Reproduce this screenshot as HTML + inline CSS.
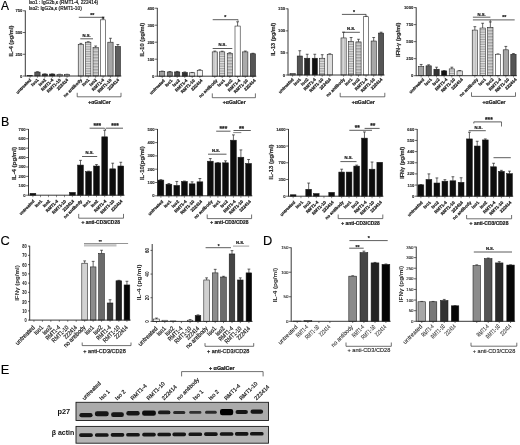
<!DOCTYPE html>
<html><head><meta charset="utf-8"><title>Figure</title>
<style>
html,body{margin:0;padding:0;background:#fff;}
body{width:520px;height:445px;overflow:hidden;}
svg{display:block;font-family:"Liberation Sans", sans-serif;filter:blur(0.3px);}
</style></head>
<body>
<svg width="520" height="445" viewBox="0 0 520 445">
<defs><pattern id="pv" width="1.6" height="4" patternUnits="userSpaceOnUse"><rect width="1.6" height="4" fill="#dadada"/><rect width="0.55" height="4" fill="#b2b2b2"/></pattern><pattern id="ph" width="4" height="1.7" patternUnits="userSpaceOnUse"><rect width="4" height="1.7" fill="#e2e2e2"/><rect width="4" height="0.65" fill="#8e8e8e"/></pattern><pattern id="ph2" width="4" height="1.5" patternUnits="userSpaceOnUse"><rect width="4" height="1.5" fill="#d6d6d6"/><rect width="4" height="0.55" fill="#8a8a8a"/></pattern><filter id="bl" x="-20%" y="-50%" width="140%" height="200%"><feGaussianBlur stdDeviation="0.45"/></filter></defs>
<rect x="0" y="0" width="520" height="445" fill="#fff"/>
<line x1="25.3" y1="10.5" x2="25.3" y2="76.4" stroke="#222" stroke-width="0.9"/>
<line x1="22.9" y1="76" x2="25.3" y2="76" stroke="#222" stroke-width="0.7"/>
<text x="22.4" y="77.51" font-size="4.2" text-anchor="end" font-weight="bold" fill="#222" stroke="#222" stroke-width="0.1">0</text>
<line x1="22.9" y1="54.27" x2="25.3" y2="54.27" stroke="#222" stroke-width="0.7"/>
<text x="22.4" y="55.78" font-size="4.2" text-anchor="end" font-weight="bold" fill="#222" stroke="#222" stroke-width="0.1">250</text>
<line x1="22.9" y1="32.53" x2="25.3" y2="32.53" stroke="#222" stroke-width="0.7"/>
<text x="22.4" y="34.05" font-size="4.2" text-anchor="end" font-weight="bold" fill="#222" stroke="#222" stroke-width="0.1">500</text>
<line x1="22.9" y1="10.8" x2="25.3" y2="10.8" stroke="#222" stroke-width="0.7"/>
<text x="22.4" y="12.31" font-size="4.2" text-anchor="end" font-weight="bold" fill="#222" stroke="#222" stroke-width="0.1">750</text>
<rect x="27.4" y="75.57" width="5.3" height="0.43" fill="#9a9a9a" stroke="#1a1a1a" stroke-width="0.55"/>
<line x1="30.05" y1="76" x2="30.05" y2="77.8" stroke="#444" stroke-width="0.6"/>
<line x1="37.45" y1="72.09" x2="37.45" y2="71.74" stroke="#222" stroke-width="0.7"/>
<line x1="36.05" y1="71.74" x2="38.85" y2="71.74" stroke="#222" stroke-width="0.7"/>
<rect x="34.8" y="72.09" width="5.3" height="3.91" fill="#5a5a5a" stroke="#1a1a1a" stroke-width="0.55"/>
<line x1="37.45" y1="76" x2="37.45" y2="77.8" stroke="#444" stroke-width="0.6"/>
<line x1="44.85" y1="74.09" x2="44.85" y2="73.91" stroke="#222" stroke-width="0.7"/>
<line x1="43.45" y1="73.91" x2="46.25" y2="73.91" stroke="#222" stroke-width="0.7"/>
<rect x="42.2" y="74.09" width="5.3" height="1.91" fill="#3a3a3a" stroke="#1a1a1a" stroke-width="0.55"/>
<line x1="44.85" y1="76" x2="44.85" y2="77.8" stroke="#444" stroke-width="0.6"/>
<line x1="52.25" y1="74.09" x2="52.25" y2="73.91" stroke="#222" stroke-width="0.7"/>
<line x1="50.85" y1="73.91" x2="53.65" y2="73.91" stroke="#222" stroke-width="0.7"/>
<rect x="49.6" y="74.09" width="5.3" height="1.91" fill="#262626" stroke="#1a1a1a" stroke-width="0.55"/>
<line x1="52.25" y1="76" x2="52.25" y2="77.8" stroke="#444" stroke-width="0.6"/>
<line x1="59.65" y1="74.44" x2="59.65" y2="74.26" stroke="#222" stroke-width="0.7"/>
<line x1="58.25" y1="74.26" x2="61.05" y2="74.26" stroke="#222" stroke-width="0.7"/>
<rect x="57" y="74.44" width="5.3" height="1.56" fill="url(#ph)" stroke="#1a1a1a" stroke-width="0.55"/>
<line x1="59.65" y1="76" x2="59.65" y2="77.8" stroke="#444" stroke-width="0.6"/>
<line x1="67.05" y1="74.44" x2="67.05" y2="74.26" stroke="#222" stroke-width="0.7"/>
<line x1="65.65" y1="74.26" x2="68.45" y2="74.26" stroke="#222" stroke-width="0.7"/>
<rect x="64.4" y="74.44" width="5.3" height="1.56" fill="#dcdcdc" stroke="#1a1a1a" stroke-width="0.55"/>
<line x1="67.05" y1="76" x2="67.05" y2="77.8" stroke="#444" stroke-width="0.6"/>
<line x1="80.85" y1="44.27" x2="80.85" y2="43.4" stroke="#222" stroke-width="0.7"/>
<line x1="79.45" y1="43.4" x2="82.25" y2="43.4" stroke="#222" stroke-width="0.7"/>
<rect x="78.2" y="44.27" width="5.3" height="31.73" fill="url(#pv)" stroke="#1a1a1a" stroke-width="0.55"/>
<line x1="80.85" y1="76" x2="80.85" y2="77.8" stroke="#444" stroke-width="0.6"/>
<line x1="88.25" y1="42.18" x2="88.25" y2="41.75" stroke="#222" stroke-width="0.7"/>
<line x1="86.85" y1="41.75" x2="89.65" y2="41.75" stroke="#222" stroke-width="0.7"/>
<rect x="85.6" y="42.18" width="5.3" height="33.82" fill="url(#ph)" stroke="#1a1a1a" stroke-width="0.55"/>
<line x1="88.25" y1="76" x2="88.25" y2="77.8" stroke="#444" stroke-width="0.6"/>
<line x1="95.65" y1="47.57" x2="95.65" y2="46.01" stroke="#222" stroke-width="0.7"/>
<line x1="94.25" y1="46.01" x2="97.05" y2="46.01" stroke="#222" stroke-width="0.7"/>
<rect x="93" y="47.57" width="5.3" height="28.43" fill="url(#ph2)" stroke="#1a1a1a" stroke-width="0.55"/>
<line x1="95.65" y1="76" x2="95.65" y2="77.8" stroke="#444" stroke-width="0.6"/>
<line x1="103.05" y1="19.84" x2="103.05" y2="18.1" stroke="#222" stroke-width="0.7"/>
<line x1="101.65" y1="18.1" x2="104.45" y2="18.1" stroke="#222" stroke-width="0.7"/>
<rect x="100.4" y="19.84" width="5.3" height="56.16" fill="#ffffff" stroke="#1a1a1a" stroke-width="0.55"/>
<line x1="103.05" y1="76" x2="103.05" y2="77.8" stroke="#444" stroke-width="0.6"/>
<line x1="110.45" y1="42.18" x2="110.45" y2="38.27" stroke="#222" stroke-width="0.7"/>
<line x1="109.05" y1="38.27" x2="111.85" y2="38.27" stroke="#222" stroke-width="0.7"/>
<rect x="107.8" y="42.18" width="5.3" height="33.82" fill="#a6a6a6" stroke="#1a1a1a" stroke-width="0.55"/>
<line x1="110.45" y1="76" x2="110.45" y2="77.8" stroke="#444" stroke-width="0.6"/>
<line x1="117.85" y1="46.44" x2="117.85" y2="44.53" stroke="#222" stroke-width="0.7"/>
<line x1="116.45" y1="44.53" x2="119.25" y2="44.53" stroke="#222" stroke-width="0.7"/>
<rect x="115.2" y="46.44" width="5.3" height="29.56" fill="#5e5e5e" stroke="#1a1a1a" stroke-width="0.55"/>
<line x1="117.85" y1="76" x2="117.85" y2="77.8" stroke="#444" stroke-width="0.6"/>
<line x1="25.3" y1="76" x2="121.3" y2="76" stroke="#222" stroke-width="0.9"/>
<text x="31.55" y="80.3" font-size="4.3" text-anchor="end" font-weight="bold" fill="#222" transform="rotate(-45 31.55 80.3)" stroke="#222" stroke-width="0.22">untreated</text>
<text x="38.95" y="80.3" font-size="4.3" text-anchor="end" font-weight="bold" fill="#222" transform="rotate(-45 38.95 80.3)" stroke="#222" stroke-width="0.22">Iso1</text>
<text x="46.35" y="80.3" font-size="4.3" text-anchor="end" font-weight="bold" fill="#222" transform="rotate(-45 46.35 80.3)" stroke="#222" stroke-width="0.22">Iso2</text>
<text x="53.75" y="80.3" font-size="4.3" text-anchor="end" font-weight="bold" fill="#222" transform="rotate(-45 53.75 80.3)" stroke="#222" stroke-width="0.22">RMT1-4</text>
<text x="61.15" y="80.3" font-size="4.3" text-anchor="end" font-weight="bold" fill="#222" transform="rotate(-45 61.15 80.3)" stroke="#222" stroke-width="0.22">RMT1-10</text>
<text x="68.55" y="80.3" font-size="4.3" text-anchor="end" font-weight="bold" fill="#222" transform="rotate(-45 68.55 80.3)" stroke="#222" stroke-width="0.22">222414</text>
<text x="82.35" y="80.3" font-size="4.3" text-anchor="end" font-weight="bold" fill="#222" transform="rotate(-45 82.35 80.3)" stroke="#222" stroke-width="0.22">no antibody</text>
<text x="89.75" y="80.3" font-size="4.3" text-anchor="end" font-weight="bold" fill="#222" transform="rotate(-45 89.75 80.3)" stroke="#222" stroke-width="0.22">Iso1</text>
<text x="97.15" y="80.3" font-size="4.3" text-anchor="end" font-weight="bold" fill="#222" transform="rotate(-45 97.15 80.3)" stroke="#222" stroke-width="0.22">Iso2</text>
<text x="104.55" y="80.3" font-size="4.3" text-anchor="end" font-weight="bold" fill="#222" transform="rotate(-45 104.55 80.3)" stroke="#222" stroke-width="0.22">RMT1-4</text>
<text x="111.95" y="80.3" font-size="4.3" text-anchor="end" font-weight="bold" fill="#222" transform="rotate(-45 111.95 80.3)" stroke="#222" stroke-width="0.22">RMT1-10</text>
<text x="119.35" y="80.3" font-size="4.3" text-anchor="end" font-weight="bold" fill="#222" transform="rotate(-45 119.35 80.3)" stroke="#222" stroke-width="0.22">222414</text>
<text x="12.9" y="41" font-size="5.9" text-anchor="middle" font-weight="bold" fill="#333" transform="rotate(-90 12.9 41)" textLength="31" lengthAdjust="spacingAndGlyphs" stroke="#333" stroke-width="0.22">IL-4 (pg/ml)</text>
<path d="M77.2 92.8 V96.8 H121 V92.8" fill="none" stroke="#333" stroke-width="0.7"/>
<text x="99.5" y="103.6" font-size="5" text-anchor="middle" font-weight="bold" fill="#222" textLength="22.6" lengthAdjust="spacingAndGlyphs" stroke="#222" stroke-width="0.22">+αGalCer</text>
<line x1="78.8" y1="17.3" x2="103.6" y2="17.3" stroke="#333" stroke-width="0.8"/>
<text x="92.3" y="17.4" font-size="5.2" text-anchor="middle" font-weight="bold" fill="#222" stroke="#222" stroke-width="0.22">**</text>
<line x1="80.3" y1="38.8" x2="93" y2="38.8" stroke="#333" stroke-width="0.8"/>
<text x="86.6" y="36.8" font-size="4.2" text-anchor="middle" font-weight="bold" fill="#222" stroke="#222" stroke-width="0.22">N.S.</text>
<path d="M101.8 16.8 L104.6 16.8 L103.2 19.2 Z" fill="#222"/>
<line x1="157.3" y1="7.9" x2="157.3" y2="76.6" stroke="#222" stroke-width="0.9"/>
<line x1="154.9" y1="76.2" x2="157.3" y2="76.2" stroke="#222" stroke-width="0.7"/>
<text x="154.4" y="77.71" font-size="4.2" text-anchor="end" font-weight="bold" fill="#222" stroke="#222" stroke-width="0.1">0</text>
<line x1="154.9" y1="59.2" x2="157.3" y2="59.2" stroke="#222" stroke-width="0.7"/>
<text x="154.4" y="60.71" font-size="4.2" text-anchor="end" font-weight="bold" fill="#222" stroke="#222" stroke-width="0.1">100</text>
<line x1="154.9" y1="42.2" x2="157.3" y2="42.2" stroke="#222" stroke-width="0.7"/>
<text x="154.4" y="43.71" font-size="4.2" text-anchor="end" font-weight="bold" fill="#222" stroke="#222" stroke-width="0.1">200</text>
<line x1="154.9" y1="25.2" x2="157.3" y2="25.2" stroke="#222" stroke-width="0.7"/>
<text x="154.4" y="26.71" font-size="4.2" text-anchor="end" font-weight="bold" fill="#222" stroke="#222" stroke-width="0.1">300</text>
<line x1="154.9" y1="8.2" x2="157.3" y2="8.2" stroke="#222" stroke-width="0.7"/>
<text x="154.4" y="9.71" font-size="4.2" text-anchor="end" font-weight="bold" fill="#222" stroke="#222" stroke-width="0.1">400</text>
<line x1="162.2" y1="71.44" x2="162.2" y2="71.1" stroke="#222" stroke-width="0.7"/>
<line x1="160.8" y1="71.1" x2="163.6" y2="71.1" stroke="#222" stroke-width="0.7"/>
<rect x="159.6" y="71.44" width="5.2" height="4.76" fill="#a0a0a0" stroke="#1a1a1a" stroke-width="0.55"/>
<line x1="162.2" y1="76.2" x2="162.2" y2="78" stroke="#444" stroke-width="0.6"/>
<line x1="169.8" y1="71.95" x2="169.8" y2="71.61" stroke="#222" stroke-width="0.7"/>
<line x1="168.4" y1="71.61" x2="171.2" y2="71.61" stroke="#222" stroke-width="0.7"/>
<rect x="167.2" y="71.95" width="5.2" height="4.25" fill="#7a7a7a" stroke="#1a1a1a" stroke-width="0.55"/>
<line x1="169.8" y1="76.2" x2="169.8" y2="78" stroke="#444" stroke-width="0.6"/>
<line x1="177.2" y1="71.95" x2="177.2" y2="71.44" stroke="#222" stroke-width="0.7"/>
<line x1="175.8" y1="71.44" x2="178.6" y2="71.44" stroke="#222" stroke-width="0.7"/>
<rect x="174.6" y="71.95" width="5.2" height="4.25" fill="#4a4a4a" stroke="#1a1a1a" stroke-width="0.55"/>
<line x1="177.2" y1="76.2" x2="177.2" y2="78" stroke="#444" stroke-width="0.6"/>
<line x1="184.8" y1="72.46" x2="184.8" y2="71.95" stroke="#222" stroke-width="0.7"/>
<line x1="183.4" y1="71.95" x2="186.2" y2="71.95" stroke="#222" stroke-width="0.7"/>
<rect x="182.2" y="72.46" width="5.2" height="3.74" fill="#333333" stroke="#1a1a1a" stroke-width="0.55"/>
<line x1="184.8" y1="76.2" x2="184.8" y2="78" stroke="#444" stroke-width="0.6"/>
<line x1="192.2" y1="72.8" x2="192.2" y2="72.46" stroke="#222" stroke-width="0.7"/>
<line x1="190.8" y1="72.46" x2="193.6" y2="72.46" stroke="#222" stroke-width="0.7"/>
<rect x="189.6" y="72.8" width="5.2" height="3.4" fill="#dddddd" stroke="#1a1a1a" stroke-width="0.55"/>
<line x1="192.2" y1="76.2" x2="192.2" y2="78" stroke="#444" stroke-width="0.6"/>
<line x1="199.8" y1="70.25" x2="199.8" y2="69.74" stroke="#222" stroke-width="0.7"/>
<line x1="198.4" y1="69.74" x2="201.2" y2="69.74" stroke="#222" stroke-width="0.7"/>
<rect x="197.2" y="70.25" width="5.2" height="5.95" fill="#f4f4f4" stroke="#1a1a1a" stroke-width="0.55"/>
<line x1="199.8" y1="76.2" x2="199.8" y2="78" stroke="#444" stroke-width="0.6"/>
<line x1="214.8" y1="51.89" x2="214.8" y2="51.04" stroke="#222" stroke-width="0.7"/>
<line x1="213.4" y1="51.04" x2="216.2" y2="51.04" stroke="#222" stroke-width="0.7"/>
<rect x="212.2" y="51.89" width="5.2" height="24.31" fill="url(#pv)" stroke="#1a1a1a" stroke-width="0.55"/>
<line x1="214.8" y1="76.2" x2="214.8" y2="78" stroke="#444" stroke-width="0.6"/>
<line x1="222.2" y1="51.89" x2="222.2" y2="51.21" stroke="#222" stroke-width="0.7"/>
<line x1="220.8" y1="51.21" x2="223.6" y2="51.21" stroke="#222" stroke-width="0.7"/>
<rect x="219.6" y="51.89" width="5.2" height="24.31" fill="url(#ph)" stroke="#1a1a1a" stroke-width="0.55"/>
<line x1="222.2" y1="76.2" x2="222.2" y2="78" stroke="#444" stroke-width="0.6"/>
<line x1="229.8" y1="53.25" x2="229.8" y2="52.74" stroke="#222" stroke-width="0.7"/>
<line x1="228.4" y1="52.74" x2="231.2" y2="52.74" stroke="#222" stroke-width="0.7"/>
<rect x="227.2" y="53.25" width="5.2" height="22.95" fill="url(#ph2)" stroke="#1a1a1a" stroke-width="0.55"/>
<line x1="229.8" y1="76.2" x2="229.8" y2="78" stroke="#444" stroke-width="0.6"/>
<line x1="237.6" y1="26.05" x2="237.6" y2="21.8" stroke="#222" stroke-width="0.7"/>
<line x1="236.2" y1="21.8" x2="239" y2="21.8" stroke="#222" stroke-width="0.7"/>
<rect x="235" y="26.05" width="5.2" height="50.15" fill="#ffffff" stroke="#1a1a1a" stroke-width="0.55"/>
<line x1="237.6" y1="76.2" x2="237.6" y2="78" stroke="#444" stroke-width="0.6"/>
<line x1="245.3" y1="51.89" x2="245.3" y2="51.04" stroke="#222" stroke-width="0.7"/>
<line x1="243.9" y1="51.04" x2="246.7" y2="51.04" stroke="#222" stroke-width="0.7"/>
<rect x="242.7" y="51.89" width="5.2" height="24.31" fill="#aaaaaa" stroke="#1a1a1a" stroke-width="0.55"/>
<line x1="245.3" y1="76.2" x2="245.3" y2="78" stroke="#444" stroke-width="0.6"/>
<line x1="252.9" y1="53.76" x2="252.9" y2="53.25" stroke="#222" stroke-width="0.7"/>
<line x1="251.5" y1="53.25" x2="254.3" y2="53.25" stroke="#222" stroke-width="0.7"/>
<rect x="250.3" y="53.76" width="5.2" height="22.44" fill="#555555" stroke="#1a1a1a" stroke-width="0.55"/>
<line x1="252.9" y1="76.2" x2="252.9" y2="78" stroke="#444" stroke-width="0.6"/>
<line x1="157.3" y1="76.2" x2="256.3" y2="76.2" stroke="#222" stroke-width="0.9"/>
<text x="165.2" y="80.9" font-size="4.3" text-anchor="end" font-weight="bold" fill="#222" transform="rotate(-45 165.2 80.9)" stroke="#222" stroke-width="0.22">untreated</text>
<text x="172.8" y="80.9" font-size="4.3" text-anchor="end" font-weight="bold" fill="#222" transform="rotate(-45 172.8 80.9)" stroke="#222" stroke-width="0.22">Iso1</text>
<text x="180.2" y="80.9" font-size="4.3" text-anchor="end" font-weight="bold" fill="#222" transform="rotate(-45 180.2 80.9)" stroke="#222" stroke-width="0.22">Iso2</text>
<text x="187.8" y="80.9" font-size="4.3" text-anchor="end" font-weight="bold" fill="#222" transform="rotate(-45 187.8 80.9)" stroke="#222" stroke-width="0.22">RMT1-4</text>
<text x="195.2" y="80.9" font-size="4.3" text-anchor="end" font-weight="bold" fill="#222" transform="rotate(-45 195.2 80.9)" stroke="#222" stroke-width="0.22">RMT1-10</text>
<text x="202.8" y="80.9" font-size="4.3" text-anchor="end" font-weight="bold" fill="#222" transform="rotate(-45 202.8 80.9)" stroke="#222" stroke-width="0.22">222414</text>
<text x="217.8" y="80.9" font-size="4.3" text-anchor="end" font-weight="bold" fill="#222" transform="rotate(-45 217.8 80.9)" stroke="#222" stroke-width="0.22">no antibody</text>
<text x="225.2" y="80.9" font-size="4.3" text-anchor="end" font-weight="bold" fill="#222" transform="rotate(-45 225.2 80.9)" stroke="#222" stroke-width="0.22">Iso1</text>
<text x="232.8" y="80.9" font-size="4.3" text-anchor="end" font-weight="bold" fill="#222" transform="rotate(-45 232.8 80.9)" stroke="#222" stroke-width="0.22">Iso2</text>
<text x="240.6" y="80.9" font-size="4.3" text-anchor="end" font-weight="bold" fill="#222" transform="rotate(-45 240.6 80.9)" stroke="#222" stroke-width="0.22">RMT1-4</text>
<text x="248.3" y="80.9" font-size="4.3" text-anchor="end" font-weight="bold" fill="#222" transform="rotate(-45 248.3 80.9)" stroke="#222" stroke-width="0.22">RMT1-10</text>
<text x="255.9" y="80.9" font-size="4.3" text-anchor="end" font-weight="bold" fill="#222" transform="rotate(-45 255.9 80.9)" stroke="#222" stroke-width="0.22">222414</text>
<text x="143.8" y="39.7" font-size="5.9" text-anchor="middle" font-weight="bold" fill="#333" transform="rotate(-90 143.8 39.7)" textLength="33.7" lengthAdjust="spacingAndGlyphs" stroke="#333" stroke-width="0.22">IL-10 (pg/ml)</text>
<path d="M212.3 93.4 V97.7 H255.4 V93.4" fill="none" stroke="#333" stroke-width="0.7"/>
<text x="234.25" y="104.4" font-size="5" text-anchor="middle" font-weight="bold" fill="#222" textLength="22.9" lengthAdjust="spacingAndGlyphs" stroke="#222" stroke-width="0.22">+αGalCer</text>
<line x1="212.7" y1="19.7" x2="238.2" y2="19.7" stroke="#333" stroke-width="0.8"/>
<text x="225.2" y="19" font-size="5.2" text-anchor="middle" font-weight="bold" fill="#222" stroke="#222" stroke-width="0.22">*</text>
<line x1="212.7" y1="48.5" x2="232.3" y2="48.5" stroke="#333" stroke-width="0.8"/>
<text x="222.5" y="46.3" font-size="4.2" text-anchor="middle" font-weight="bold" fill="#222" stroke="#222" stroke-width="0.22">N.S.</text>
<path d="M238 19.7 V21.6" fill="none" stroke="#555" stroke-width="0.6"/>
<line x1="288" y1="8.5" x2="288" y2="75.4" stroke="#222" stroke-width="0.9"/>
<line x1="285.6" y1="75" x2="288" y2="75" stroke="#222" stroke-width="0.7"/>
<text x="285.1" y="76.51" font-size="4.2" text-anchor="end" font-weight="bold" fill="#222" stroke="#222" stroke-width="0.1">0</text>
<line x1="285.6" y1="52.93" x2="288" y2="52.93" stroke="#222" stroke-width="0.7"/>
<text x="285.1" y="54.45" font-size="4.2" text-anchor="end" font-weight="bold" fill="#222" stroke="#222" stroke-width="0.1">50</text>
<line x1="285.6" y1="30.87" x2="288" y2="30.87" stroke="#222" stroke-width="0.7"/>
<text x="285.1" y="32.38" font-size="4.2" text-anchor="end" font-weight="bold" fill="#222" stroke="#222" stroke-width="0.1">100</text>
<line x1="285.6" y1="8.8" x2="288" y2="8.8" stroke="#222" stroke-width="0.7"/>
<text x="285.1" y="10.31" font-size="4.2" text-anchor="end" font-weight="bold" fill="#222" stroke="#222" stroke-width="0.1">150</text>
<rect x="290" y="73.46" width="5.2" height="1.54" fill="#9a9a9a" stroke="#1a1a1a" stroke-width="0.55"/>
<line x1="292.6" y1="75" x2="292.6" y2="76.8" stroke="#444" stroke-width="0.6"/>
<line x1="299.8" y1="56.02" x2="299.8" y2="50.73" stroke="#222" stroke-width="0.7"/>
<line x1="298.4" y1="50.73" x2="301.2" y2="50.73" stroke="#222" stroke-width="0.7"/>
<rect x="297.2" y="56.02" width="5.2" height="18.98" fill="#555555" stroke="#1a1a1a" stroke-width="0.55"/>
<line x1="299.8" y1="75" x2="299.8" y2="76.8" stroke="#444" stroke-width="0.6"/>
<line x1="307.2" y1="58.23" x2="307.2" y2="54.26" stroke="#222" stroke-width="0.7"/>
<line x1="305.8" y1="54.26" x2="308.6" y2="54.26" stroke="#222" stroke-width="0.7"/>
<rect x="304.6" y="58.23" width="5.2" height="16.77" fill="#262626" stroke="#1a1a1a" stroke-width="0.55"/>
<line x1="307.2" y1="75" x2="307.2" y2="76.8" stroke="#444" stroke-width="0.6"/>
<line x1="314.8" y1="58.23" x2="314.8" y2="54.26" stroke="#222" stroke-width="0.7"/>
<line x1="313.4" y1="54.26" x2="316.2" y2="54.26" stroke="#222" stroke-width="0.7"/>
<rect x="312.2" y="58.23" width="5.2" height="16.77" fill="#111111" stroke="#1a1a1a" stroke-width="0.55"/>
<line x1="314.8" y1="75" x2="314.8" y2="76.8" stroke="#444" stroke-width="0.6"/>
<line x1="322.2" y1="58.23" x2="322.2" y2="54.7" stroke="#222" stroke-width="0.7"/>
<line x1="320.8" y1="54.7" x2="323.6" y2="54.7" stroke="#222" stroke-width="0.7"/>
<rect x="319.6" y="58.23" width="5.2" height="16.77" fill="url(#ph)" stroke="#1a1a1a" stroke-width="0.55"/>
<line x1="322.2" y1="75" x2="322.2" y2="76.8" stroke="#444" stroke-width="0.6"/>
<line x1="329.8" y1="54.26" x2="329.8" y2="53.82" stroke="#222" stroke-width="0.7"/>
<line x1="328.4" y1="53.82" x2="331.2" y2="53.82" stroke="#222" stroke-width="0.7"/>
<rect x="327.2" y="54.26" width="5.2" height="20.74" fill="#dddddd" stroke="#1a1a1a" stroke-width="0.55"/>
<line x1="329.8" y1="75" x2="329.8" y2="76.8" stroke="#444" stroke-width="0.6"/>
<line x1="343.6" y1="37.93" x2="343.6" y2="32.19" stroke="#222" stroke-width="0.7"/>
<line x1="342.2" y1="32.19" x2="345" y2="32.19" stroke="#222" stroke-width="0.7"/>
<rect x="341" y="37.93" width="5.2" height="37.07" fill="url(#pv)" stroke="#1a1a1a" stroke-width="0.55"/>
<line x1="343.6" y1="75" x2="343.6" y2="76.8" stroke="#444" stroke-width="0.6"/>
<line x1="351.1" y1="41.46" x2="351.1" y2="37.49" stroke="#222" stroke-width="0.7"/>
<line x1="349.7" y1="37.49" x2="352.5" y2="37.49" stroke="#222" stroke-width="0.7"/>
<rect x="348.5" y="41.46" width="5.2" height="33.54" fill="url(#ph)" stroke="#1a1a1a" stroke-width="0.55"/>
<line x1="351.1" y1="75" x2="351.1" y2="76.8" stroke="#444" stroke-width="0.6"/>
<line x1="358.5" y1="41.9" x2="358.5" y2="39.25" stroke="#222" stroke-width="0.7"/>
<line x1="357.1" y1="39.25" x2="359.9" y2="39.25" stroke="#222" stroke-width="0.7"/>
<rect x="355.9" y="41.9" width="5.2" height="33.1" fill="url(#ph2)" stroke="#1a1a1a" stroke-width="0.55"/>
<line x1="358.5" y1="75" x2="358.5" y2="76.8" stroke="#444" stroke-width="0.6"/>
<line x1="366.1" y1="16.74" x2="366.1" y2="16.3" stroke="#222" stroke-width="0.7"/>
<line x1="364.7" y1="16.3" x2="367.5" y2="16.3" stroke="#222" stroke-width="0.7"/>
<rect x="363.5" y="16.74" width="5.2" height="58.26" fill="#ffffff" stroke="#1a1a1a" stroke-width="0.55"/>
<line x1="366.1" y1="75" x2="366.1" y2="76.8" stroke="#444" stroke-width="0.6"/>
<line x1="373.7" y1="41.02" x2="373.7" y2="37.49" stroke="#222" stroke-width="0.7"/>
<line x1="372.3" y1="37.49" x2="375.1" y2="37.49" stroke="#222" stroke-width="0.7"/>
<rect x="371.1" y="41.02" width="5.2" height="33.98" fill="#a8a8a8" stroke="#1a1a1a" stroke-width="0.55"/>
<line x1="373.7" y1="75" x2="373.7" y2="76.8" stroke="#444" stroke-width="0.6"/>
<line x1="381.1" y1="33.07" x2="381.1" y2="32.19" stroke="#222" stroke-width="0.7"/>
<line x1="379.7" y1="32.19" x2="382.5" y2="32.19" stroke="#222" stroke-width="0.7"/>
<rect x="378.5" y="33.07" width="5.2" height="41.93" fill="#555555" stroke="#1a1a1a" stroke-width="0.55"/>
<line x1="381.1" y1="75" x2="381.1" y2="76.8" stroke="#444" stroke-width="0.6"/>
<line x1="288" y1="75" x2="384.5" y2="75" stroke="#222" stroke-width="0.9"/>
<text x="294.1" y="79.8" font-size="4.3" text-anchor="end" font-weight="bold" fill="#222" transform="rotate(-45 294.1 79.8)" stroke="#222" stroke-width="0.22">untreated</text>
<text x="301.3" y="79.8" font-size="4.3" text-anchor="end" font-weight="bold" fill="#222" transform="rotate(-45 301.3 79.8)" stroke="#222" stroke-width="0.22">Iso1</text>
<text x="308.7" y="79.8" font-size="4.3" text-anchor="end" font-weight="bold" fill="#222" transform="rotate(-45 308.7 79.8)" stroke="#222" stroke-width="0.22">Iso2</text>
<text x="316.3" y="79.8" font-size="4.3" text-anchor="end" font-weight="bold" fill="#222" transform="rotate(-45 316.3 79.8)" stroke="#222" stroke-width="0.22">RMT1-4</text>
<text x="323.7" y="79.8" font-size="4.3" text-anchor="end" font-weight="bold" fill="#222" transform="rotate(-45 323.7 79.8)" stroke="#222" stroke-width="0.22">RMT1-10</text>
<text x="331.3" y="79.8" font-size="4.3" text-anchor="end" font-weight="bold" fill="#222" transform="rotate(-45 331.3 79.8)" stroke="#222" stroke-width="0.22">222414</text>
<text x="345.1" y="79.8" font-size="4.3" text-anchor="end" font-weight="bold" fill="#222" transform="rotate(-45 345.1 79.8)" stroke="#222" stroke-width="0.22">no antibody</text>
<text x="352.6" y="79.8" font-size="4.3" text-anchor="end" font-weight="bold" fill="#222" transform="rotate(-45 352.6 79.8)" stroke="#222" stroke-width="0.22">Iso1</text>
<text x="360" y="79.8" font-size="4.3" text-anchor="end" font-weight="bold" fill="#222" transform="rotate(-45 360 79.8)" stroke="#222" stroke-width="0.22">Iso2</text>
<text x="367.6" y="79.8" font-size="4.3" text-anchor="end" font-weight="bold" fill="#222" transform="rotate(-45 367.6 79.8)" stroke="#222" stroke-width="0.22">RMT1-4</text>
<text x="375.2" y="79.8" font-size="4.3" text-anchor="end" font-weight="bold" fill="#222" transform="rotate(-45 375.2 79.8)" stroke="#222" stroke-width="0.22">RMT1-10</text>
<text x="382.6" y="79.8" font-size="4.3" text-anchor="end" font-weight="bold" fill="#222" transform="rotate(-45 382.6 79.8)" stroke="#222" stroke-width="0.22">222414</text>
<text x="274.8" y="39.3" font-size="5.9" text-anchor="middle" font-weight="bold" fill="#333" transform="rotate(-90 274.8 39.3)" textLength="33" lengthAdjust="spacingAndGlyphs" stroke="#333" stroke-width="0.22">IL-13 (pg/ml)</text>
<path d="M340.2 92.8 V96.8 H384.8 V92.8" fill="none" stroke="#333" stroke-width="0.7"/>
<text x="363.25" y="103.6" font-size="5" text-anchor="middle" font-weight="bold" fill="#222" textLength="23.1" lengthAdjust="spacingAndGlyphs" stroke="#222" stroke-width="0.22">+αGalCer</text>
<line x1="341.9" y1="14.4" x2="366.2" y2="14.4" stroke="#333" stroke-width="0.8"/>
<text x="354" y="13.8" font-size="5.2" text-anchor="middle" font-weight="bold" fill="#222" stroke="#222" stroke-width="0.22">*</text>
<line x1="342.4" y1="32.3" x2="359.9" y2="32.3" stroke="#333" stroke-width="0.8"/>
<text x="351.2" y="30.2" font-size="4.2" text-anchor="middle" font-weight="bold" fill="#222" stroke="#222" stroke-width="0.22">N.S.</text>
<path d="M366 14.4 V16.2" fill="none" stroke="#333" stroke-width="0.7"/>
<line x1="416.2" y1="7.3" x2="416.2" y2="76.1" stroke="#222" stroke-width="0.9"/>
<line x1="413.8" y1="75.7" x2="416.2" y2="75.7" stroke="#222" stroke-width="0.7"/>
<text x="413.3" y="77.21" font-size="4.2" text-anchor="end" font-weight="bold" fill="#222" stroke="#222" stroke-width="0.1">0</text>
<line x1="413.8" y1="58.67" x2="416.2" y2="58.67" stroke="#222" stroke-width="0.7"/>
<text x="413.3" y="60.19" font-size="4.2" text-anchor="end" font-weight="bold" fill="#222" stroke="#222" stroke-width="0.1">250</text>
<line x1="413.8" y1="41.65" x2="416.2" y2="41.65" stroke="#222" stroke-width="0.7"/>
<text x="413.3" y="43.16" font-size="4.2" text-anchor="end" font-weight="bold" fill="#222" stroke="#222" stroke-width="0.1">500</text>
<line x1="413.8" y1="24.62" x2="416.2" y2="24.62" stroke="#222" stroke-width="0.7"/>
<text x="413.3" y="26.14" font-size="4.2" text-anchor="end" font-weight="bold" fill="#222" stroke="#222" stroke-width="0.1">750</text>
<line x1="413.8" y1="7.6" x2="416.2" y2="7.6" stroke="#222" stroke-width="0.7"/>
<text x="413.3" y="9.11" font-size="4.2" text-anchor="end" font-weight="bold" fill="#222" stroke="#222" stroke-width="0.1">1000</text>
<line x1="421.15" y1="66.51" x2="421.15" y2="64.46" stroke="#222" stroke-width="0.7"/>
<line x1="419.75" y1="64.46" x2="422.55" y2="64.46" stroke="#222" stroke-width="0.7"/>
<rect x="418.5" y="66.51" width="5.3" height="9.19" fill="#a5a5a5" stroke="#1a1a1a" stroke-width="0.55"/>
<line x1="421.15" y1="75.7" x2="421.15" y2="77.5" stroke="#444" stroke-width="0.6"/>
<line x1="428.65" y1="65.83" x2="428.65" y2="64.8" stroke="#222" stroke-width="0.7"/>
<line x1="427.25" y1="64.8" x2="430.05" y2="64.8" stroke="#222" stroke-width="0.7"/>
<rect x="426" y="65.83" width="5.3" height="9.87" fill="#5a5a5a" stroke="#1a1a1a" stroke-width="0.55"/>
<line x1="428.65" y1="75.7" x2="428.65" y2="77.5" stroke="#444" stroke-width="0.6"/>
<line x1="436.55" y1="69.23" x2="436.55" y2="67.19" stroke="#222" stroke-width="0.7"/>
<line x1="435.15" y1="67.19" x2="437.95" y2="67.19" stroke="#222" stroke-width="0.7"/>
<rect x="433.9" y="69.23" width="5.3" height="6.47" fill="#333333" stroke="#1a1a1a" stroke-width="0.55"/>
<line x1="436.55" y1="75.7" x2="436.55" y2="77.5" stroke="#444" stroke-width="0.6"/>
<line x1="444.15" y1="70.93" x2="444.15" y2="70.59" stroke="#222" stroke-width="0.7"/>
<line x1="442.75" y1="70.59" x2="445.55" y2="70.59" stroke="#222" stroke-width="0.7"/>
<rect x="441.5" y="70.93" width="5.3" height="4.77" fill="#111111" stroke="#1a1a1a" stroke-width="0.55"/>
<line x1="444.15" y1="75.7" x2="444.15" y2="77.5" stroke="#444" stroke-width="0.6"/>
<line x1="451.85" y1="68.89" x2="451.85" y2="67.19" stroke="#222" stroke-width="0.7"/>
<line x1="450.45" y1="67.19" x2="453.25" y2="67.19" stroke="#222" stroke-width="0.7"/>
<rect x="449.2" y="68.89" width="5.3" height="6.81" fill="url(#ph)" stroke="#1a1a1a" stroke-width="0.55"/>
<line x1="451.85" y1="75.7" x2="451.85" y2="77.5" stroke="#444" stroke-width="0.6"/>
<line x1="459.65" y1="70.93" x2="459.65" y2="70.59" stroke="#222" stroke-width="0.7"/>
<line x1="458.25" y1="70.59" x2="461.05" y2="70.59" stroke="#222" stroke-width="0.7"/>
<rect x="457" y="70.93" width="5.3" height="4.77" fill="#d8d8d8" stroke="#1a1a1a" stroke-width="0.55"/>
<line x1="459.65" y1="75.7" x2="459.65" y2="77.5" stroke="#444" stroke-width="0.6"/>
<line x1="474.85" y1="30.07" x2="474.85" y2="26.67" stroke="#222" stroke-width="0.7"/>
<line x1="473.45" y1="26.67" x2="476.25" y2="26.67" stroke="#222" stroke-width="0.7"/>
<rect x="472.2" y="30.07" width="5.3" height="45.63" fill="url(#pv)" stroke="#1a1a1a" stroke-width="0.55"/>
<line x1="474.85" y1="75.7" x2="474.85" y2="77.5" stroke="#444" stroke-width="0.6"/>
<line x1="482.65" y1="28.03" x2="482.65" y2="23.26" stroke="#222" stroke-width="0.7"/>
<line x1="481.25" y1="23.26" x2="484.05" y2="23.26" stroke="#222" stroke-width="0.7"/>
<rect x="480" y="28.03" width="5.3" height="47.67" fill="url(#ph)" stroke="#1a1a1a" stroke-width="0.55"/>
<line x1="482.65" y1="75.7" x2="482.65" y2="77.5" stroke="#444" stroke-width="0.6"/>
<line x1="490.35" y1="27.35" x2="490.35" y2="21.9" stroke="#222" stroke-width="0.7"/>
<line x1="488.95" y1="21.9" x2="491.75" y2="21.9" stroke="#222" stroke-width="0.7"/>
<rect x="487.7" y="27.35" width="5.3" height="48.35" fill="url(#ph2)" stroke="#1a1a1a" stroke-width="0.55"/>
<line x1="490.35" y1="75.7" x2="490.35" y2="77.5" stroke="#444" stroke-width="0.6"/>
<line x1="497.95" y1="54.25" x2="497.95" y2="53.91" stroke="#222" stroke-width="0.7"/>
<line x1="496.55" y1="53.91" x2="499.35" y2="53.91" stroke="#222" stroke-width="0.7"/>
<rect x="495.3" y="54.25" width="5.3" height="21.45" fill="#ffffff" stroke="#1a1a1a" stroke-width="0.55"/>
<line x1="497.95" y1="75.7" x2="497.95" y2="77.5" stroke="#444" stroke-width="0.6"/>
<line x1="505.85" y1="49.82" x2="505.85" y2="46.42" stroke="#222" stroke-width="0.7"/>
<line x1="504.45" y1="46.42" x2="507.25" y2="46.42" stroke="#222" stroke-width="0.7"/>
<rect x="503.2" y="49.82" width="5.3" height="25.88" fill="#a5a5a5" stroke="#1a1a1a" stroke-width="0.55"/>
<line x1="505.85" y1="75.7" x2="505.85" y2="77.5" stroke="#444" stroke-width="0.6"/>
<line x1="513.45" y1="54.25" x2="513.45" y2="53.57" stroke="#222" stroke-width="0.7"/>
<line x1="512.05" y1="53.57" x2="514.85" y2="53.57" stroke="#222" stroke-width="0.7"/>
<rect x="510.8" y="54.25" width="5.3" height="21.45" fill="#555555" stroke="#1a1a1a" stroke-width="0.55"/>
<line x1="513.45" y1="75.7" x2="513.45" y2="77.5" stroke="#444" stroke-width="0.6"/>
<line x1="416.2" y1="75.7" x2="516.9" y2="75.7" stroke="#222" stroke-width="0.9"/>
<text x="424.65" y="79.9" font-size="4.3" text-anchor="end" font-weight="bold" fill="#222" transform="rotate(-45 424.65 79.9)" stroke="#222" stroke-width="0.22">untreated</text>
<text x="432.15" y="79.9" font-size="4.3" text-anchor="end" font-weight="bold" fill="#222" transform="rotate(-45 432.15 79.9)" stroke="#222" stroke-width="0.22">Iso1</text>
<text x="440.05" y="79.9" font-size="4.3" text-anchor="end" font-weight="bold" fill="#222" transform="rotate(-45 440.05 79.9)" stroke="#222" stroke-width="0.22">Iso2</text>
<text x="447.65" y="79.9" font-size="4.3" text-anchor="end" font-weight="bold" fill="#222" transform="rotate(-45 447.65 79.9)" stroke="#222" stroke-width="0.22">RMT1-4</text>
<text x="455.35" y="79.9" font-size="4.3" text-anchor="end" font-weight="bold" fill="#222" transform="rotate(-45 455.35 79.9)" stroke="#222" stroke-width="0.22">RMT1-10</text>
<text x="463.15" y="79.9" font-size="4.3" text-anchor="end" font-weight="bold" fill="#222" transform="rotate(-45 463.15 79.9)" stroke="#222" stroke-width="0.22">222414</text>
<text x="478.35" y="79.9" font-size="4.3" text-anchor="end" font-weight="bold" fill="#222" transform="rotate(-45 478.35 79.9)" stroke="#222" stroke-width="0.22">no antibody</text>
<text x="486.15" y="79.9" font-size="4.3" text-anchor="end" font-weight="bold" fill="#222" transform="rotate(-45 486.15 79.9)" stroke="#222" stroke-width="0.22">Iso1</text>
<text x="493.85" y="79.9" font-size="4.3" text-anchor="end" font-weight="bold" fill="#222" transform="rotate(-45 493.85 79.9)" stroke="#222" stroke-width="0.22">Iso2</text>
<text x="501.45" y="79.9" font-size="4.3" text-anchor="end" font-weight="bold" fill="#222" transform="rotate(-45 501.45 79.9)" stroke="#222" stroke-width="0.22">RMT1-4</text>
<text x="509.35" y="79.9" font-size="4.3" text-anchor="end" font-weight="bold" fill="#222" transform="rotate(-45 509.35 79.9)" stroke="#222" stroke-width="0.22">RMT1-10</text>
<text x="516.95" y="79.9" font-size="4.3" text-anchor="end" font-weight="bold" fill="#222" transform="rotate(-45 516.95 79.9)" stroke="#222" stroke-width="0.22">222414</text>
<text x="400.2" y="39.7" font-size="5.9" text-anchor="middle" font-weight="bold" fill="#333" transform="rotate(-90 400.2 39.7)" textLength="34.4" lengthAdjust="spacingAndGlyphs" stroke="#333" stroke-width="0.22">IFN-γ (pg/ml)</text>
<path d="M471.5 92.3 V96.4 H515.5 V92.3" fill="none" stroke="#333" stroke-width="0.7"/>
<text x="494" y="103.6" font-size="5" text-anchor="middle" font-weight="bold" fill="#222" textLength="23" lengthAdjust="spacingAndGlyphs" stroke="#222" stroke-width="0.22">+αGalCer</text>
<line x1="472.9" y1="17.2" x2="490.4" y2="17.2" stroke="#333" stroke-width="0.8"/>
<text x="481.6" y="15.8" font-size="4.2" text-anchor="middle" font-weight="bold" fill="#222" stroke="#222" stroke-width="0.22">N.S.</text>
<line x1="472.9" y1="19.9" x2="514.7" y2="19.9" stroke="#333" stroke-width="0.8"/>
<text x="504.2" y="19.2" font-size="5.2" text-anchor="middle" font-weight="bold" fill="#222" stroke="#222" stroke-width="0.22">**</text>
<path d="M490.3 19.9 V22.5" fill="none" stroke="#333" stroke-width="0.7"/>
<line x1="28.5" y1="129" x2="28.5" y2="195.6" stroke="#222" stroke-width="0.9"/>
<line x1="26.1" y1="195.2" x2="28.5" y2="195.2" stroke="#222" stroke-width="0.7"/>
<text x="25.6" y="196.71" font-size="4.2" text-anchor="end" font-weight="bold" fill="#222" stroke="#222" stroke-width="0.1">0</text>
<line x1="26.1" y1="185.79" x2="28.5" y2="185.79" stroke="#222" stroke-width="0.7"/>
<text x="25.6" y="187.3" font-size="4.2" text-anchor="end" font-weight="bold" fill="#222" stroke="#222" stroke-width="0.1">100</text>
<line x1="26.1" y1="176.37" x2="28.5" y2="176.37" stroke="#222" stroke-width="0.7"/>
<text x="25.6" y="177.88" font-size="4.2" text-anchor="end" font-weight="bold" fill="#222" stroke="#222" stroke-width="0.1">200</text>
<line x1="26.1" y1="166.96" x2="28.5" y2="166.96" stroke="#222" stroke-width="0.7"/>
<text x="25.6" y="168.47" font-size="4.2" text-anchor="end" font-weight="bold" fill="#222" stroke="#222" stroke-width="0.1">300</text>
<line x1="26.1" y1="157.54" x2="28.5" y2="157.54" stroke="#222" stroke-width="0.7"/>
<text x="25.6" y="159.05" font-size="4.2" text-anchor="end" font-weight="bold" fill="#222" stroke="#222" stroke-width="0.1">400</text>
<line x1="26.1" y1="148.13" x2="28.5" y2="148.13" stroke="#222" stroke-width="0.7"/>
<text x="25.6" y="149.64" font-size="4.2" text-anchor="end" font-weight="bold" fill="#222" stroke="#222" stroke-width="0.1">500</text>
<line x1="26.1" y1="138.71" x2="28.5" y2="138.71" stroke="#222" stroke-width="0.7"/>
<text x="25.6" y="140.23" font-size="4.2" text-anchor="end" font-weight="bold" fill="#222" stroke="#222" stroke-width="0.1">600</text>
<line x1="26.1" y1="129.3" x2="28.5" y2="129.3" stroke="#222" stroke-width="0.7"/>
<text x="25.6" y="130.81" font-size="4.2" text-anchor="end" font-weight="bold" fill="#222" stroke="#222" stroke-width="0.1">700</text>
<rect x="30" y="193.32" width="5.8" height="1.88" fill="#0d0d0d" stroke="#1a1a1a" stroke-width="0.55"/>
<line x1="32.9" y1="195.2" x2="32.9" y2="197.2" stroke="#444" stroke-width="0.6"/>
<line x1="40.5" y1="195.2" x2="40.5" y2="197.2" stroke="#444" stroke-width="0.6"/>
<line x1="48.5" y1="195.2" x2="48.5" y2="197.2" stroke="#444" stroke-width="0.6"/>
<line x1="56.5" y1="195.2" x2="56.5" y2="197.2" stroke="#444" stroke-width="0.6"/>
<line x1="64.5" y1="195.2" x2="64.5" y2="197.2" stroke="#444" stroke-width="0.6"/>
<rect x="69.5" y="192.38" width="5.8" height="2.82" fill="#0d0d0d" stroke="#1a1a1a" stroke-width="0.55"/>
<line x1="72.4" y1="195.2" x2="72.4" y2="197.2" stroke="#444" stroke-width="0.6"/>
<line x1="80.5" y1="165.07" x2="80.5" y2="160.37" stroke="#222" stroke-width="0.7"/>
<line x1="79.1" y1="160.37" x2="81.9" y2="160.37" stroke="#222" stroke-width="0.7"/>
<rect x="77.6" y="165.07" width="5.8" height="30.13" fill="#0d0d0d" stroke="#1a1a1a" stroke-width="0.55"/>
<line x1="80.5" y1="195.2" x2="80.5" y2="197.2" stroke="#444" stroke-width="0.6"/>
<line x1="88.6" y1="171.66" x2="88.6" y2="171.19" stroke="#222" stroke-width="0.7"/>
<line x1="87.2" y1="171.19" x2="90" y2="171.19" stroke="#222" stroke-width="0.7"/>
<rect x="85.7" y="171.66" width="5.8" height="23.54" fill="#0d0d0d" stroke="#1a1a1a" stroke-width="0.55"/>
<line x1="88.6" y1="195.2" x2="88.6" y2="197.2" stroke="#444" stroke-width="0.6"/>
<line x1="96.5" y1="166.02" x2="96.5" y2="164.6" stroke="#222" stroke-width="0.7"/>
<line x1="95.1" y1="164.6" x2="97.9" y2="164.6" stroke="#222" stroke-width="0.7"/>
<rect x="93.6" y="166.02" width="5.8" height="29.18" fill="#0d0d0d" stroke="#1a1a1a" stroke-width="0.55"/>
<line x1="96.5" y1="195.2" x2="96.5" y2="197.2" stroke="#444" stroke-width="0.6"/>
<line x1="104.7" y1="136.83" x2="104.7" y2="130.24" stroke="#222" stroke-width="0.7"/>
<line x1="103.3" y1="130.24" x2="106.1" y2="130.24" stroke="#222" stroke-width="0.7"/>
<rect x="101.8" y="136.83" width="5.8" height="58.37" fill="#0d0d0d" stroke="#1a1a1a" stroke-width="0.55"/>
<line x1="104.7" y1="195.2" x2="104.7" y2="197.2" stroke="#444" stroke-width="0.6"/>
<line x1="112.7" y1="168.84" x2="112.7" y2="163.19" stroke="#222" stroke-width="0.7"/>
<line x1="111.3" y1="163.19" x2="114.1" y2="163.19" stroke="#222" stroke-width="0.7"/>
<rect x="109.8" y="168.84" width="5.8" height="26.36" fill="#0d0d0d" stroke="#1a1a1a" stroke-width="0.55"/>
<line x1="112.7" y1="195.2" x2="112.7" y2="197.2" stroke="#444" stroke-width="0.6"/>
<line x1="120.8" y1="166.02" x2="120.8" y2="162.25" stroke="#222" stroke-width="0.7"/>
<line x1="119.4" y1="162.25" x2="122.2" y2="162.25" stroke="#222" stroke-width="0.7"/>
<rect x="117.9" y="166.02" width="5.8" height="29.18" fill="#0d0d0d" stroke="#1a1a1a" stroke-width="0.55"/>
<line x1="120.8" y1="195.2" x2="120.8" y2="197.2" stroke="#444" stroke-width="0.6"/>
<line x1="28.5" y1="195.2" x2="124.5" y2="195.2" stroke="#222" stroke-width="0.9"/>
<text x="34.9" y="201.5" font-size="4.3" text-anchor="end" font-weight="bold" fill="#222" transform="rotate(-45 34.9 201.5)" stroke="#222" stroke-width="0.22">untreated</text>
<text x="42.5" y="201.5" font-size="4.3" text-anchor="end" font-weight="bold" fill="#222" transform="rotate(-45 42.5 201.5)" stroke="#222" stroke-width="0.22">Iso1</text>
<text x="50.5" y="201.5" font-size="4.3" text-anchor="end" font-weight="bold" fill="#222" transform="rotate(-45 50.5 201.5)" stroke="#222" stroke-width="0.22">Iso2</text>
<text x="58.5" y="201.5" font-size="4.3" text-anchor="end" font-weight="bold" fill="#222" transform="rotate(-45 58.5 201.5)" stroke="#222" stroke-width="0.22">RMT1-4</text>
<text x="66.5" y="201.5" font-size="4.3" text-anchor="end" font-weight="bold" fill="#222" transform="rotate(-45 66.5 201.5)" stroke="#222" stroke-width="0.22">RMT1-10</text>
<text x="74.4" y="201.5" font-size="4.3" text-anchor="end" font-weight="bold" fill="#222" transform="rotate(-45 74.4 201.5)" stroke="#222" stroke-width="0.22">222414</text>
<text x="82.5" y="201.5" font-size="4.3" text-anchor="end" font-weight="bold" fill="#222" transform="rotate(-45 82.5 201.5)" stroke="#222" stroke-width="0.22">no antibody</text>
<text x="90.6" y="201.5" font-size="4.3" text-anchor="end" font-weight="bold" fill="#222" transform="rotate(-45 90.6 201.5)" stroke="#222" stroke-width="0.22">Iso1</text>
<text x="98.5" y="201.5" font-size="4.3" text-anchor="end" font-weight="bold" fill="#222" transform="rotate(-45 98.5 201.5)" stroke="#222" stroke-width="0.22">Iso2</text>
<text x="106.7" y="201.5" font-size="4.3" text-anchor="end" font-weight="bold" fill="#222" transform="rotate(-45 106.7 201.5)" stroke="#222" stroke-width="0.22">RMT1-4</text>
<text x="114.7" y="201.5" font-size="4.3" text-anchor="end" font-weight="bold" fill="#222" transform="rotate(-45 114.7 201.5)" stroke="#222" stroke-width="0.22">RMT1-10</text>
<text x="122.8" y="201.5" font-size="4.3" text-anchor="end" font-weight="bold" fill="#222" transform="rotate(-45 122.8 201.5)" stroke="#222" stroke-width="0.22">222414</text>
<text x="15.7" y="163.5" font-size="5.9" text-anchor="middle" font-weight="bold" fill="#333" transform="rotate(-90 15.7 163.5)" textLength="33.2" lengthAdjust="spacingAndGlyphs" stroke="#333" stroke-width="0.22">IL-4 (pg/ml)</text>
<path d="M78.7 213.9 V218.2 H123.5 V213.9" fill="none" stroke="#333" stroke-width="0.7"/>
<text x="100.7" y="223.9" font-size="4.9" text-anchor="middle" font-weight="bold" fill="#222" textLength="38.4" lengthAdjust="spacingAndGlyphs" stroke="#222" stroke-width="0.22">+ anti-CD3/CD28</text>
<line x1="89.6" y1="128.2" x2="104.6" y2="128.2" stroke="#333" stroke-width="0.8"/>
<text x="97.2" y="128.2" font-size="6.5" text-anchor="middle" font-weight="bold" fill="#222" stroke="#222" stroke-width="0.22">***</text>
<line x1="105.8" y1="128.2" x2="123" y2="128.2" stroke="#333" stroke-width="0.8"/>
<text x="115" y="128.2" font-size="6.5" text-anchor="middle" font-weight="bold" fill="#222" stroke="#222" stroke-width="0.22">***</text>
<line x1="82" y1="156.5" x2="97.2" y2="156.5" stroke="#333" stroke-width="0.8"/>
<text x="89.6" y="154.3" font-size="4.2" text-anchor="middle" font-weight="bold" fill="#222" stroke="#222" stroke-width="0.22">N.S.</text>
<path d="M104.6 128.2 L105.8 130" fill="none" stroke="#333" stroke-width="0.7"/>
<line x1="157.5" y1="129" x2="157.5" y2="196.2" stroke="#222" stroke-width="0.9"/>
<line x1="155.1" y1="195.8" x2="157.5" y2="195.8" stroke="#222" stroke-width="0.7"/>
<text x="154.6" y="197.31" font-size="4.2" text-anchor="end" font-weight="bold" fill="#222" stroke="#222" stroke-width="0.1">0</text>
<line x1="155.1" y1="182.5" x2="157.5" y2="182.5" stroke="#222" stroke-width="0.7"/>
<text x="154.6" y="184.01" font-size="4.2" text-anchor="end" font-weight="bold" fill="#222" stroke="#222" stroke-width="0.1">100</text>
<line x1="155.1" y1="169.2" x2="157.5" y2="169.2" stroke="#222" stroke-width="0.7"/>
<text x="154.6" y="170.71" font-size="4.2" text-anchor="end" font-weight="bold" fill="#222" stroke="#222" stroke-width="0.1">200</text>
<line x1="155.1" y1="155.9" x2="157.5" y2="155.9" stroke="#222" stroke-width="0.7"/>
<text x="154.6" y="157.41" font-size="4.2" text-anchor="end" font-weight="bold" fill="#222" stroke="#222" stroke-width="0.1">300</text>
<line x1="155.1" y1="142.6" x2="157.5" y2="142.6" stroke="#222" stroke-width="0.7"/>
<text x="154.6" y="144.11" font-size="4.2" text-anchor="end" font-weight="bold" fill="#222" stroke="#222" stroke-width="0.1">400</text>
<line x1="155.1" y1="129.3" x2="157.5" y2="129.3" stroke="#222" stroke-width="0.7"/>
<text x="154.6" y="130.81" font-size="4.2" text-anchor="end" font-weight="bold" fill="#222" stroke="#222" stroke-width="0.1">500</text>
<line x1="160.9" y1="180.11" x2="160.9" y2="179.71" stroke="#222" stroke-width="0.7"/>
<line x1="159.5" y1="179.71" x2="162.3" y2="179.71" stroke="#222" stroke-width="0.7"/>
<rect x="158" y="180.11" width="5.8" height="15.69" fill="#0d0d0d" stroke="#1a1a1a" stroke-width="0.55"/>
<line x1="160.9" y1="195.8" x2="160.9" y2="197.8" stroke="#444" stroke-width="0.6"/>
<line x1="168.9" y1="184.23" x2="168.9" y2="183.56" stroke="#222" stroke-width="0.7"/>
<line x1="167.5" y1="183.56" x2="170.3" y2="183.56" stroke="#222" stroke-width="0.7"/>
<rect x="166" y="184.23" width="5.8" height="11.57" fill="#0d0d0d" stroke="#1a1a1a" stroke-width="0.55"/>
<line x1="168.9" y1="195.8" x2="168.9" y2="197.8" stroke="#444" stroke-width="0.6"/>
<line x1="176.8" y1="185.43" x2="176.8" y2="181.44" stroke="#222" stroke-width="0.7"/>
<line x1="175.4" y1="181.44" x2="178.2" y2="181.44" stroke="#222" stroke-width="0.7"/>
<rect x="173.9" y="185.43" width="5.8" height="10.37" fill="#0d0d0d" stroke="#1a1a1a" stroke-width="0.55"/>
<line x1="176.8" y1="195.8" x2="176.8" y2="197.8" stroke="#444" stroke-width="0.6"/>
<line x1="184.4" y1="181.44" x2="184.4" y2="181.04" stroke="#222" stroke-width="0.7"/>
<line x1="183" y1="181.04" x2="185.8" y2="181.04" stroke="#222" stroke-width="0.7"/>
<rect x="181.5" y="181.44" width="5.8" height="14.36" fill="#0d0d0d" stroke="#1a1a1a" stroke-width="0.55"/>
<line x1="184.4" y1="195.8" x2="184.4" y2="197.8" stroke="#444" stroke-width="0.6"/>
<line x1="192.1" y1="183.83" x2="192.1" y2="181.84" stroke="#222" stroke-width="0.7"/>
<line x1="190.7" y1="181.84" x2="193.5" y2="181.84" stroke="#222" stroke-width="0.7"/>
<rect x="189.2" y="183.83" width="5.8" height="11.97" fill="#0d0d0d" stroke="#1a1a1a" stroke-width="0.55"/>
<line x1="192.1" y1="195.8" x2="192.1" y2="197.8" stroke="#444" stroke-width="0.6"/>
<line x1="199.9" y1="181.84" x2="199.9" y2="178.51" stroke="#222" stroke-width="0.7"/>
<line x1="198.5" y1="178.51" x2="201.3" y2="178.51" stroke="#222" stroke-width="0.7"/>
<rect x="197" y="181.84" width="5.8" height="13.96" fill="#0d0d0d" stroke="#1a1a1a" stroke-width="0.55"/>
<line x1="199.9" y1="195.8" x2="199.9" y2="197.8" stroke="#444" stroke-width="0.6"/>
<line x1="210.3" y1="161.22" x2="210.3" y2="158.56" stroke="#222" stroke-width="0.7"/>
<line x1="208.9" y1="158.56" x2="211.7" y2="158.56" stroke="#222" stroke-width="0.7"/>
<rect x="207.4" y="161.22" width="5.8" height="34.58" fill="#0d0d0d" stroke="#1a1a1a" stroke-width="0.55"/>
<line x1="210.3" y1="195.8" x2="210.3" y2="197.8" stroke="#444" stroke-width="0.6"/>
<line x1="217.9" y1="162.95" x2="217.9" y2="162.68" stroke="#222" stroke-width="0.7"/>
<line x1="216.5" y1="162.68" x2="219.3" y2="162.68" stroke="#222" stroke-width="0.7"/>
<rect x="215" y="162.95" width="5.8" height="32.85" fill="#0d0d0d" stroke="#1a1a1a" stroke-width="0.55"/>
<line x1="217.9" y1="195.8" x2="217.9" y2="197.8" stroke="#444" stroke-width="0.6"/>
<line x1="225.5" y1="162.82" x2="225.5" y2="160.82" stroke="#222" stroke-width="0.7"/>
<line x1="224.1" y1="160.82" x2="226.9" y2="160.82" stroke="#222" stroke-width="0.7"/>
<rect x="222.6" y="162.82" width="5.8" height="32.98" fill="#0d0d0d" stroke="#1a1a1a" stroke-width="0.55"/>
<line x1="225.5" y1="195.8" x2="225.5" y2="197.8" stroke="#444" stroke-width="0.6"/>
<line x1="233.4" y1="140.21" x2="233.4" y2="134.89" stroke="#222" stroke-width="0.7"/>
<line x1="232" y1="134.89" x2="234.8" y2="134.89" stroke="#222" stroke-width="0.7"/>
<rect x="230.5" y="140.21" width="5.8" height="55.59" fill="#0d0d0d" stroke="#1a1a1a" stroke-width="0.55"/>
<line x1="233.4" y1="195.8" x2="233.4" y2="197.8" stroke="#444" stroke-width="0.6"/>
<line x1="240.9" y1="157.23" x2="240.9" y2="149.92" stroke="#222" stroke-width="0.7"/>
<line x1="239.5" y1="149.92" x2="242.3" y2="149.92" stroke="#222" stroke-width="0.7"/>
<rect x="238" y="157.23" width="5.8" height="38.57" fill="#0d0d0d" stroke="#1a1a1a" stroke-width="0.55"/>
<line x1="240.9" y1="195.8" x2="240.9" y2="197.8" stroke="#444" stroke-width="0.6"/>
<line x1="248.6" y1="163.48" x2="248.6" y2="159.49" stroke="#222" stroke-width="0.7"/>
<line x1="247.2" y1="159.49" x2="250" y2="159.49" stroke="#222" stroke-width="0.7"/>
<rect x="245.7" y="163.48" width="5.8" height="32.32" fill="#0d0d0d" stroke="#1a1a1a" stroke-width="0.55"/>
<line x1="248.6" y1="195.8" x2="248.6" y2="197.8" stroke="#444" stroke-width="0.6"/>
<line x1="157.5" y1="195.8" x2="252.3" y2="195.8" stroke="#222" stroke-width="0.9"/>
<text x="163.5" y="201.9" font-size="4.3" text-anchor="end" font-weight="bold" fill="#222" transform="rotate(-45 163.5 201.9)" stroke="#222" stroke-width="0.22">untreated</text>
<text x="171.5" y="201.9" font-size="4.3" text-anchor="end" font-weight="bold" fill="#222" transform="rotate(-45 171.5 201.9)" stroke="#222" stroke-width="0.22">Iso1</text>
<text x="179.4" y="201.9" font-size="4.3" text-anchor="end" font-weight="bold" fill="#222" transform="rotate(-45 179.4 201.9)" stroke="#222" stroke-width="0.22">Iso2</text>
<text x="187" y="201.9" font-size="4.3" text-anchor="end" font-weight="bold" fill="#222" transform="rotate(-45 187 201.9)" stroke="#222" stroke-width="0.22">RMT1-4</text>
<text x="194.7" y="201.9" font-size="4.3" text-anchor="end" font-weight="bold" fill="#222" transform="rotate(-45 194.7 201.9)" stroke="#222" stroke-width="0.22">RMT1-10</text>
<text x="202.5" y="201.9" font-size="4.3" text-anchor="end" font-weight="bold" fill="#222" transform="rotate(-45 202.5 201.9)" stroke="#222" stroke-width="0.22">222414</text>
<text x="212.9" y="201.9" font-size="4.3" text-anchor="end" font-weight="bold" fill="#222" transform="rotate(-45 212.9 201.9)" stroke="#222" stroke-width="0.22">no antibody</text>
<text x="220.5" y="201.9" font-size="4.3" text-anchor="end" font-weight="bold" fill="#222" transform="rotate(-45 220.5 201.9)" stroke="#222" stroke-width="0.22">Iso1</text>
<text x="228.1" y="201.9" font-size="4.3" text-anchor="end" font-weight="bold" fill="#222" transform="rotate(-45 228.1 201.9)" stroke="#222" stroke-width="0.22">Iso2</text>
<text x="236" y="201.9" font-size="4.3" text-anchor="end" font-weight="bold" fill="#222" transform="rotate(-45 236 201.9)" stroke="#222" stroke-width="0.22">RMT1-4</text>
<text x="243.5" y="201.9" font-size="4.3" text-anchor="end" font-weight="bold" fill="#222" transform="rotate(-45 243.5 201.9)" stroke="#222" stroke-width="0.22">RMT1-10</text>
<text x="251.2" y="201.9" font-size="4.3" text-anchor="end" font-weight="bold" fill="#222" transform="rotate(-45 251.2 201.9)" stroke="#222" stroke-width="0.22">222414</text>
<text x="143.8" y="163.2" font-size="5.9" text-anchor="middle" font-weight="bold" fill="#333" transform="rotate(-90 143.8 163.2)" textLength="33.7" lengthAdjust="spacingAndGlyphs" stroke="#333" stroke-width="0.22">IL-10(pg/ml)</text>
<path d="M207.2 214.5 V218.6 H251.6 V214.5" fill="none" stroke="#333" stroke-width="0.7"/>
<text x="229.3" y="224.4" font-size="4.9" text-anchor="middle" font-weight="bold" fill="#222" textLength="38.2" lengthAdjust="spacingAndGlyphs" stroke="#222" stroke-width="0.22">+ anti-CD3/CD28</text>
<line x1="216.2" y1="131.2" x2="230.5" y2="131.2" stroke="#333" stroke-width="0.8"/>
<text x="223.4" y="131.2" font-size="6.5" text-anchor="middle" font-weight="bold" fill="#222" stroke="#222" stroke-width="0.22">***</text>
<line x1="233.5" y1="130.5" x2="250.8" y2="130.5" stroke="#333" stroke-width="0.8"/>
<text x="241.5" y="130.5" font-size="6.5" text-anchor="middle" font-weight="bold" fill="#222" stroke="#222" stroke-width="0.22">**</text>
<line x1="208" y1="154.2" x2="226.5" y2="154.2" stroke="#333" stroke-width="0.8"/>
<text x="216" y="152" font-size="4.2" text-anchor="middle" font-weight="bold" fill="#222" stroke="#222" stroke-width="0.22">N.S.</text>
<path d="M233.2 132.6 H241.3" fill="none" stroke="#555" stroke-width="0.7"/>
<line x1="288.5" y1="129" x2="288.5" y2="196.6" stroke="#222" stroke-width="0.9"/>
<line x1="286.1" y1="196.2" x2="288.5" y2="196.2" stroke="#222" stroke-width="0.7"/>
<text x="285.6" y="197.71" font-size="4.2" text-anchor="end" font-weight="bold" fill="#222" stroke="#222" stroke-width="0.1">0</text>
<line x1="286.1" y1="179.47" x2="288.5" y2="179.47" stroke="#222" stroke-width="0.7"/>
<text x="285.6" y="180.99" font-size="4.2" text-anchor="end" font-weight="bold" fill="#222" stroke="#222" stroke-width="0.1">350</text>
<line x1="286.1" y1="162.75" x2="288.5" y2="162.75" stroke="#222" stroke-width="0.7"/>
<text x="285.6" y="164.26" font-size="4.2" text-anchor="end" font-weight="bold" fill="#222" stroke="#222" stroke-width="0.1">700</text>
<line x1="286.1" y1="146.03" x2="288.5" y2="146.03" stroke="#222" stroke-width="0.7"/>
<text x="285.6" y="147.54" font-size="4.2" text-anchor="end" font-weight="bold" fill="#222" stroke="#222" stroke-width="0.1">1050</text>
<line x1="286.1" y1="129.3" x2="288.5" y2="129.3" stroke="#222" stroke-width="0.7"/>
<text x="285.6" y="130.81" font-size="4.2" text-anchor="end" font-weight="bold" fill="#222" stroke="#222" stroke-width="0.1">1400</text>
<rect x="290.3" y="194.77" width="5.7" height="1.43" fill="#0d0d0d" stroke="#1a1a1a" stroke-width="0.55"/>
<line x1="293.15" y1="196.2" x2="293.15" y2="198.2" stroke="#444" stroke-width="0.6"/>
<line x1="300.95" y1="196.2" x2="300.95" y2="198.2" stroke="#444" stroke-width="0.6"/>
<line x1="308.65" y1="189.27" x2="308.65" y2="183.06" stroke="#222" stroke-width="0.7"/>
<line x1="307.25" y1="183.06" x2="310.05" y2="183.06" stroke="#222" stroke-width="0.7"/>
<rect x="305.8" y="189.27" width="5.7" height="6.93" fill="#0d0d0d" stroke="#1a1a1a" stroke-width="0.55"/>
<line x1="308.65" y1="196.2" x2="308.65" y2="198.2" stroke="#444" stroke-width="0.6"/>
<rect x="313.4" y="193.57" width="5.7" height="2.63" fill="#0d0d0d" stroke="#1a1a1a" stroke-width="0.55"/>
<line x1="316.25" y1="196.2" x2="316.25" y2="198.2" stroke="#444" stroke-width="0.6"/>
<line x1="323.95" y1="196.2" x2="323.95" y2="198.2" stroke="#444" stroke-width="0.6"/>
<rect x="328.8" y="192.38" width="5.7" height="3.82" fill="#0d0d0d" stroke="#1a1a1a" stroke-width="0.55"/>
<line x1="331.65" y1="196.2" x2="331.65" y2="198.2" stroke="#444" stroke-width="0.6"/>
<line x1="341.65" y1="172.07" x2="341.65" y2="169.2" stroke="#222" stroke-width="0.7"/>
<line x1="340.25" y1="169.2" x2="343.05" y2="169.2" stroke="#222" stroke-width="0.7"/>
<rect x="338.8" y="172.07" width="5.7" height="24.13" fill="#0d0d0d" stroke="#1a1a1a" stroke-width="0.55"/>
<line x1="341.65" y1="196.2" x2="341.65" y2="198.2" stroke="#444" stroke-width="0.6"/>
<rect x="346.2" y="172.07" width="5.7" height="24.13" fill="#0d0d0d" stroke="#1a1a1a" stroke-width="0.55"/>
<line x1="349.05" y1="196.2" x2="349.05" y2="198.2" stroke="#444" stroke-width="0.6"/>
<line x1="356.65" y1="166.09" x2="356.65" y2="165.14" stroke="#222" stroke-width="0.7"/>
<line x1="355.25" y1="165.14" x2="358.05" y2="165.14" stroke="#222" stroke-width="0.7"/>
<rect x="353.8" y="166.09" width="5.7" height="30.1" fill="#0d0d0d" stroke="#1a1a1a" stroke-width="0.55"/>
<line x1="356.65" y1="196.2" x2="356.65" y2="198.2" stroke="#444" stroke-width="0.6"/>
<line x1="364.45" y1="138.14" x2="364.45" y2="131.93" stroke="#222" stroke-width="0.7"/>
<line x1="363.05" y1="131.93" x2="365.85" y2="131.93" stroke="#222" stroke-width="0.7"/>
<rect x="361.6" y="138.14" width="5.7" height="58.06" fill="#0d0d0d" stroke="#1a1a1a" stroke-width="0.55"/>
<line x1="364.45" y1="196.2" x2="364.45" y2="198.2" stroke="#444" stroke-width="0.6"/>
<line x1="372.05" y1="169.2" x2="372.05" y2="162.03" stroke="#222" stroke-width="0.7"/>
<line x1="370.65" y1="162.03" x2="373.45" y2="162.03" stroke="#222" stroke-width="0.7"/>
<rect x="369.2" y="169.2" width="5.7" height="27" fill="#0d0d0d" stroke="#1a1a1a" stroke-width="0.55"/>
<line x1="372.05" y1="196.2" x2="372.05" y2="198.2" stroke="#444" stroke-width="0.6"/>
<rect x="376.9" y="162.27" width="5.7" height="33.93" fill="#0d0d0d" stroke="#1a1a1a" stroke-width="0.55"/>
<line x1="379.75" y1="196.2" x2="379.75" y2="198.2" stroke="#444" stroke-width="0.6"/>
<line x1="288.5" y1="196.2" x2="383.4" y2="196.2" stroke="#222" stroke-width="0.9"/>
<text x="295.55" y="202.6" font-size="4.3" text-anchor="end" font-weight="bold" fill="#222" transform="rotate(-45 295.55 202.6)" stroke="#222" stroke-width="0.22">untreated</text>
<text x="303.35" y="202.6" font-size="4.3" text-anchor="end" font-weight="bold" fill="#222" transform="rotate(-45 303.35 202.6)" stroke="#222" stroke-width="0.22">Iso1</text>
<text x="311.05" y="202.6" font-size="4.3" text-anchor="end" font-weight="bold" fill="#222" transform="rotate(-45 311.05 202.6)" stroke="#222" stroke-width="0.22">Iso2</text>
<text x="318.65" y="202.6" font-size="4.3" text-anchor="end" font-weight="bold" fill="#222" transform="rotate(-45 318.65 202.6)" stroke="#222" stroke-width="0.22">RMT1-4</text>
<text x="326.35" y="202.6" font-size="4.3" text-anchor="end" font-weight="bold" fill="#222" transform="rotate(-45 326.35 202.6)" stroke="#222" stroke-width="0.22">RMT1-10</text>
<text x="334.05" y="202.6" font-size="4.3" text-anchor="end" font-weight="bold" fill="#222" transform="rotate(-45 334.05 202.6)" stroke="#222" stroke-width="0.22">222414</text>
<text x="344.05" y="202.6" font-size="4.3" text-anchor="end" font-weight="bold" fill="#222" transform="rotate(-45 344.05 202.6)" stroke="#222" stroke-width="0.22">no antibody</text>
<text x="351.45" y="202.6" font-size="4.3" text-anchor="end" font-weight="bold" fill="#222" transform="rotate(-45 351.45 202.6)" stroke="#222" stroke-width="0.22">Iso1</text>
<text x="359.05" y="202.6" font-size="4.3" text-anchor="end" font-weight="bold" fill="#222" transform="rotate(-45 359.05 202.6)" stroke="#222" stroke-width="0.22">Iso2</text>
<text x="366.85" y="202.6" font-size="4.3" text-anchor="end" font-weight="bold" fill="#222" transform="rotate(-45 366.85 202.6)" stroke="#222" stroke-width="0.22">RMT1-4</text>
<text x="374.45" y="202.6" font-size="4.3" text-anchor="end" font-weight="bold" fill="#222" transform="rotate(-45 374.45 202.6)" stroke="#222" stroke-width="0.22">RMT1-10</text>
<text x="382.15" y="202.6" font-size="4.3" text-anchor="end" font-weight="bold" fill="#222" transform="rotate(-45 382.15 202.6)" stroke="#222" stroke-width="0.22">222414</text>
<text x="272.7" y="161.9" font-size="5.9" text-anchor="middle" font-weight="bold" fill="#333" transform="rotate(-90 272.7 161.9)" textLength="35" lengthAdjust="spacingAndGlyphs" stroke="#333" stroke-width="0.22">IL-13 (pg/ml)</text>
<path d="M338.2 214.5 V218.6 H382.8 V214.5" fill="none" stroke="#333" stroke-width="0.7"/>
<text x="360.5" y="224.7" font-size="4.9" text-anchor="middle" font-weight="bold" fill="#222" textLength="38.7" lengthAdjust="spacingAndGlyphs" stroke="#222" stroke-width="0.22">+ anti-CD3/CD28</text>
<line x1="349.3" y1="130.3" x2="372" y2="130.3" stroke="#333" stroke-width="0.8"/>
<text x="357.2" y="129.8" font-size="6.5" text-anchor="middle" font-weight="bold" fill="#222" stroke="#222" stroke-width="0.22">**</text>
<line x1="364.6" y1="128.4" x2="379.6" y2="128.4" stroke="#333" stroke-width="0.8"/>
<text x="372.7" y="128.2" font-size="6.5" text-anchor="middle" font-weight="bold" fill="#222" stroke="#222" stroke-width="0.22">**</text>
<line x1="340.4" y1="161.6" x2="356.5" y2="161.6" stroke="#333" stroke-width="0.8"/>
<text x="348.6" y="159.3" font-size="4.2" text-anchor="middle" font-weight="bold" fill="#222" stroke="#222" stroke-width="0.22">N.S.</text>
<line x1="417.2" y1="129" x2="417.2" y2="196.6" stroke="#222" stroke-width="0.9"/>
<line x1="414.8" y1="196.2" x2="417.2" y2="196.2" stroke="#222" stroke-width="0.7"/>
<text x="414.3" y="197.71" font-size="4.2" text-anchor="end" font-weight="bold" fill="#222" stroke="#222" stroke-width="0.1">0</text>
<line x1="414.8" y1="185.05" x2="417.2" y2="185.05" stroke="#222" stroke-width="0.7"/>
<text x="414.3" y="186.56" font-size="4.2" text-anchor="end" font-weight="bold" fill="#222" stroke="#222" stroke-width="0.1">110</text>
<line x1="414.8" y1="173.9" x2="417.2" y2="173.9" stroke="#222" stroke-width="0.7"/>
<text x="414.3" y="175.41" font-size="4.2" text-anchor="end" font-weight="bold" fill="#222" stroke="#222" stroke-width="0.1">220</text>
<line x1="414.8" y1="162.75" x2="417.2" y2="162.75" stroke="#222" stroke-width="0.7"/>
<text x="414.3" y="164.26" font-size="4.2" text-anchor="end" font-weight="bold" fill="#222" stroke="#222" stroke-width="0.1">330</text>
<line x1="414.8" y1="151.6" x2="417.2" y2="151.6" stroke="#222" stroke-width="0.7"/>
<text x="414.3" y="153.11" font-size="4.2" text-anchor="end" font-weight="bold" fill="#222" stroke="#222" stroke-width="0.1">440</text>
<line x1="414.8" y1="140.45" x2="417.2" y2="140.45" stroke="#222" stroke-width="0.7"/>
<text x="414.3" y="141.96" font-size="4.2" text-anchor="end" font-weight="bold" fill="#222" stroke="#222" stroke-width="0.1">550</text>
<line x1="414.8" y1="129.3" x2="417.2" y2="129.3" stroke="#222" stroke-width="0.7"/>
<text x="414.3" y="130.81" font-size="4.2" text-anchor="end" font-weight="bold" fill="#222" stroke="#222" stroke-width="0.1">660</text>
<line x1="420.9" y1="184.85" x2="420.9" y2="184.54" stroke="#222" stroke-width="0.7"/>
<line x1="419.5" y1="184.54" x2="422.3" y2="184.54" stroke="#222" stroke-width="0.7"/>
<rect x="418" y="184.85" width="5.8" height="11.35" fill="#0d0d0d" stroke="#1a1a1a" stroke-width="0.55"/>
<line x1="420.9" y1="196.2" x2="420.9" y2="198.2" stroke="#444" stroke-width="0.6"/>
<line x1="428.9" y1="179.47" x2="428.9" y2="173.9" stroke="#222" stroke-width="0.7"/>
<line x1="427.5" y1="173.9" x2="430.3" y2="173.9" stroke="#222" stroke-width="0.7"/>
<rect x="426" y="179.47" width="5.8" height="16.72" fill="#0d0d0d" stroke="#1a1a1a" stroke-width="0.55"/>
<line x1="428.9" y1="196.2" x2="428.9" y2="198.2" stroke="#444" stroke-width="0.6"/>
<line x1="436.9" y1="183.02" x2="436.9" y2="177.95" stroke="#222" stroke-width="0.7"/>
<line x1="435.5" y1="177.95" x2="438.3" y2="177.95" stroke="#222" stroke-width="0.7"/>
<rect x="434" y="183.02" width="5.8" height="13.18" fill="#0d0d0d" stroke="#1a1a1a" stroke-width="0.55"/>
<line x1="436.9" y1="196.2" x2="436.9" y2="198.2" stroke="#444" stroke-width="0.6"/>
<line x1="444.9" y1="181.2" x2="444.9" y2="179.68" stroke="#222" stroke-width="0.7"/>
<line x1="443.5" y1="179.68" x2="446.3" y2="179.68" stroke="#222" stroke-width="0.7"/>
<rect x="442" y="181.2" width="5.8" height="15" fill="#0d0d0d" stroke="#1a1a1a" stroke-width="0.55"/>
<line x1="444.9" y1="196.2" x2="444.9" y2="198.2" stroke="#444" stroke-width="0.6"/>
<line x1="452.9" y1="180.79" x2="452.9" y2="176.74" stroke="#222" stroke-width="0.7"/>
<line x1="451.5" y1="176.74" x2="454.3" y2="176.74" stroke="#222" stroke-width="0.7"/>
<rect x="450" y="180.79" width="5.8" height="15.41" fill="#0d0d0d" stroke="#1a1a1a" stroke-width="0.55"/>
<line x1="452.9" y1="196.2" x2="452.9" y2="198.2" stroke="#444" stroke-width="0.6"/>
<line x1="461.1" y1="182.31" x2="461.1" y2="177.75" stroke="#222" stroke-width="0.7"/>
<line x1="459.7" y1="177.75" x2="462.5" y2="177.75" stroke="#222" stroke-width="0.7"/>
<rect x="458.2" y="182.31" width="5.8" height="13.89" fill="#0d0d0d" stroke="#1a1a1a" stroke-width="0.55"/>
<line x1="461.1" y1="196.2" x2="461.1" y2="198.2" stroke="#444" stroke-width="0.6"/>
<line x1="469.4" y1="138.93" x2="469.4" y2="132.24" stroke="#222" stroke-width="0.7"/>
<line x1="468" y1="132.24" x2="470.8" y2="132.24" stroke="#222" stroke-width="0.7"/>
<rect x="466.5" y="138.93" width="5.8" height="57.27" fill="#0d0d0d" stroke="#1a1a1a" stroke-width="0.55"/>
<line x1="469.4" y1="196.2" x2="469.4" y2="198.2" stroke="#444" stroke-width="0.6"/>
<line x1="477.2" y1="146.03" x2="477.2" y2="141.26" stroke="#222" stroke-width="0.7"/>
<line x1="475.8" y1="141.26" x2="478.6" y2="141.26" stroke="#222" stroke-width="0.7"/>
<rect x="474.3" y="146.03" width="5.8" height="50.17" fill="#0d0d0d" stroke="#1a1a1a" stroke-width="0.55"/>
<line x1="477.2" y1="196.2" x2="477.2" y2="198.2" stroke="#444" stroke-width="0.6"/>
<line x1="485.3" y1="139.94" x2="485.3" y2="138.93" stroke="#222" stroke-width="0.7"/>
<line x1="483.9" y1="138.93" x2="486.7" y2="138.93" stroke="#222" stroke-width="0.7"/>
<rect x="482.4" y="139.94" width="5.8" height="56.26" fill="#0d0d0d" stroke="#1a1a1a" stroke-width="0.55"/>
<line x1="485.3" y1="196.2" x2="485.3" y2="198.2" stroke="#444" stroke-width="0.6"/>
<line x1="493.6" y1="166.8" x2="493.6" y2="163.26" stroke="#222" stroke-width="0.7"/>
<line x1="492.2" y1="163.26" x2="495" y2="163.26" stroke="#222" stroke-width="0.7"/>
<rect x="490.7" y="166.8" width="5.8" height="29.4" fill="#0d0d0d" stroke="#1a1a1a" stroke-width="0.55"/>
<line x1="493.6" y1="196.2" x2="493.6" y2="198.2" stroke="#444" stroke-width="0.6"/>
<line x1="501.4" y1="171.37" x2="501.4" y2="170.35" stroke="#222" stroke-width="0.7"/>
<line x1="500" y1="170.35" x2="502.8" y2="170.35" stroke="#222" stroke-width="0.7"/>
<rect x="498.5" y="171.37" width="5.8" height="24.83" fill="#0d0d0d" stroke="#1a1a1a" stroke-width="0.55"/>
<line x1="501.4" y1="196.2" x2="501.4" y2="198.2" stroke="#444" stroke-width="0.6"/>
<line x1="509.5" y1="173.7" x2="509.5" y2="171.16" stroke="#222" stroke-width="0.7"/>
<line x1="508.1" y1="171.16" x2="510.9" y2="171.16" stroke="#222" stroke-width="0.7"/>
<rect x="506.6" y="173.7" width="5.8" height="22.5" fill="#0d0d0d" stroke="#1a1a1a" stroke-width="0.55"/>
<line x1="509.5" y1="196.2" x2="509.5" y2="198.2" stroke="#444" stroke-width="0.6"/>
<line x1="417.2" y1="196.2" x2="513.2" y2="196.2" stroke="#222" stroke-width="0.9"/>
<text x="423.1" y="202.8" font-size="4.3" text-anchor="end" font-weight="bold" fill="#222" transform="rotate(-45 423.1 202.8)" stroke="#222" stroke-width="0.22">untreated</text>
<text x="431.1" y="202.8" font-size="4.3" text-anchor="end" font-weight="bold" fill="#222" transform="rotate(-45 431.1 202.8)" stroke="#222" stroke-width="0.22">Iso1</text>
<text x="439.1" y="202.8" font-size="4.3" text-anchor="end" font-weight="bold" fill="#222" transform="rotate(-45 439.1 202.8)" stroke="#222" stroke-width="0.22">Iso2</text>
<text x="447.1" y="202.8" font-size="4.3" text-anchor="end" font-weight="bold" fill="#222" transform="rotate(-45 447.1 202.8)" stroke="#222" stroke-width="0.22">RMT1-4</text>
<text x="455.1" y="202.8" font-size="4.3" text-anchor="end" font-weight="bold" fill="#222" transform="rotate(-45 455.1 202.8)" stroke="#222" stroke-width="0.22">RMT1-10</text>
<text x="463.3" y="202.8" font-size="4.3" text-anchor="end" font-weight="bold" fill="#222" transform="rotate(-45 463.3 202.8)" stroke="#222" stroke-width="0.22">222414</text>
<text x="471.6" y="202.8" font-size="4.3" text-anchor="end" font-weight="bold" fill="#222" transform="rotate(-45 471.6 202.8)" stroke="#222" stroke-width="0.22">no antibody</text>
<text x="479.4" y="202.8" font-size="4.3" text-anchor="end" font-weight="bold" fill="#222" transform="rotate(-45 479.4 202.8)" stroke="#222" stroke-width="0.22">Iso1</text>
<text x="487.5" y="202.8" font-size="4.3" text-anchor="end" font-weight="bold" fill="#222" transform="rotate(-45 487.5 202.8)" stroke="#222" stroke-width="0.22">Iso2</text>
<text x="495.8" y="202.8" font-size="4.3" text-anchor="end" font-weight="bold" fill="#222" transform="rotate(-45 495.8 202.8)" stroke="#222" stroke-width="0.22">RMT1-4</text>
<text x="503.6" y="202.8" font-size="4.3" text-anchor="end" font-weight="bold" fill="#222" transform="rotate(-45 503.6 202.8)" stroke="#222" stroke-width="0.22">RMT1-10</text>
<text x="511.7" y="202.8" font-size="4.3" text-anchor="end" font-weight="bold" fill="#222" transform="rotate(-45 511.7 202.8)" stroke="#222" stroke-width="0.22">222414</text>
<text x="403.7" y="162.9" font-size="5.9" text-anchor="middle" font-weight="bold" fill="#333" transform="rotate(-90 403.7 162.9)" textLength="31.9" lengthAdjust="spacingAndGlyphs" stroke="#333" stroke-width="0.22">IFNγ (pg/ml)</text>
<path d="M466.6 215 V218.8 H511.6 V215" fill="none" stroke="#333" stroke-width="0.7"/>
<text x="489" y="224.7" font-size="4.9" text-anchor="middle" font-weight="bold" fill="#222" textLength="38.8" lengthAdjust="spacingAndGlyphs" stroke="#222" stroke-width="0.22">+ anti-CD3/CD28</text>
<line x1="473.8" y1="121.9" x2="501.5" y2="121.9" stroke="#333" stroke-width="0.8"/>
<text x="488.9" y="122" font-size="6.5" text-anchor="middle" font-weight="bold" fill="#222" stroke="#222" stroke-width="0.22">***</text>
<line x1="468.8" y1="130.7" x2="485.8" y2="130.7" stroke="#333" stroke-width="0.8"/>
<text x="478.5" y="128.5" font-size="4.2" text-anchor="middle" font-weight="bold" fill="#222" stroke="#222" stroke-width="0.22">N.S.</text>
<line x1="493.5" y1="157.7" x2="510.8" y2="157.7" stroke="#333" stroke-width="0.8"/>
<path d="M473.8 121.9 V123.5 M501.5 121.9 V126.5" fill="none" stroke="#333" stroke-width="0.7"/>
<line x1="29.7" y1="245.8" x2="29.7" y2="320.5" stroke="#222" stroke-width="0.9"/>
<line x1="28" y1="320.1" x2="29.7" y2="320.1" stroke="#222" stroke-width="0.7"/>
<text x="26.7" y="322.12" font-size="5.6" text-anchor="end" font-weight="bold" fill="#222" textLength="2.2" lengthAdjust="spacingAndGlyphs" stroke="#222" stroke-width="0.05">0</text>
<line x1="28" y1="310.85" x2="29.7" y2="310.85" stroke="#222" stroke-width="0.7"/>
<text x="26.7" y="312.87" font-size="5.6" text-anchor="end" font-weight="bold" fill="#222" textLength="4.4" lengthAdjust="spacingAndGlyphs" stroke="#222" stroke-width="0.05">10</text>
<line x1="28" y1="301.6" x2="29.7" y2="301.6" stroke="#222" stroke-width="0.7"/>
<text x="26.7" y="303.62" font-size="5.6" text-anchor="end" font-weight="bold" fill="#222" textLength="4.4" lengthAdjust="spacingAndGlyphs" stroke="#222" stroke-width="0.05">20</text>
<line x1="28" y1="292.35" x2="29.7" y2="292.35" stroke="#222" stroke-width="0.7"/>
<text x="26.7" y="294.37" font-size="5.6" text-anchor="end" font-weight="bold" fill="#222" textLength="4.4" lengthAdjust="spacingAndGlyphs" stroke="#222" stroke-width="0.05">30</text>
<line x1="28" y1="283.1" x2="29.7" y2="283.1" stroke="#222" stroke-width="0.7"/>
<text x="26.7" y="285.12" font-size="5.6" text-anchor="end" font-weight="bold" fill="#222" textLength="4.4" lengthAdjust="spacingAndGlyphs" stroke="#222" stroke-width="0.05">40</text>
<line x1="28" y1="273.85" x2="29.7" y2="273.85" stroke="#222" stroke-width="0.7"/>
<text x="26.7" y="275.87" font-size="5.6" text-anchor="end" font-weight="bold" fill="#222" textLength="4.4" lengthAdjust="spacingAndGlyphs" stroke="#222" stroke-width="0.05">50</text>
<line x1="28" y1="264.6" x2="29.7" y2="264.6" stroke="#222" stroke-width="0.7"/>
<text x="26.7" y="266.62" font-size="5.6" text-anchor="end" font-weight="bold" fill="#222" textLength="4.4" lengthAdjust="spacingAndGlyphs" stroke="#222" stroke-width="0.05">60</text>
<line x1="28" y1="255.35" x2="29.7" y2="255.35" stroke="#222" stroke-width="0.7"/>
<text x="26.7" y="257.37" font-size="5.6" text-anchor="end" font-weight="bold" fill="#222" textLength="4.4" lengthAdjust="spacingAndGlyphs" stroke="#222" stroke-width="0.05">70</text>
<line x1="28" y1="246.1" x2="29.7" y2="246.1" stroke="#222" stroke-width="0.7"/>
<text x="26.7" y="248.12" font-size="5.6" text-anchor="end" font-weight="bold" fill="#222" textLength="4.4" lengthAdjust="spacingAndGlyphs" stroke="#222" stroke-width="0.05">80</text>
<line x1="33.95" y1="320.1" x2="33.95" y2="321.8" stroke="#444" stroke-width="0.7"/>
<line x1="42.4" y1="320.1" x2="42.4" y2="321.8" stroke="#444" stroke-width="0.7"/>
<line x1="50.85" y1="320.1" x2="50.85" y2="321.8" stroke="#444" stroke-width="0.7"/>
<line x1="59.3" y1="320.1" x2="59.3" y2="321.8" stroke="#444" stroke-width="0.7"/>
<line x1="67.75" y1="320.1" x2="67.75" y2="321.8" stroke="#444" stroke-width="0.7"/>
<line x1="76.2" y1="320.1" x2="76.2" y2="321.8" stroke="#444" stroke-width="0.7"/>
<line x1="84.65" y1="263.21" x2="84.65" y2="260.9" stroke="#222" stroke-width="0.7"/>
<line x1="83.25" y1="260.9" x2="86.05" y2="260.9" stroke="#222" stroke-width="0.7"/>
<rect x="81.8" y="263.21" width="5.7" height="56.89" fill="#d2d2d2" stroke="#1a1a1a" stroke-width="0.55"/>
<line x1="84.65" y1="320.1" x2="84.65" y2="321.8" stroke="#444" stroke-width="0.7"/>
<line x1="93.15" y1="266.91" x2="93.15" y2="261.36" stroke="#222" stroke-width="0.7"/>
<line x1="91.75" y1="261.36" x2="94.55" y2="261.36" stroke="#222" stroke-width="0.7"/>
<rect x="90.3" y="266.91" width="5.7" height="53.19" fill="#8c8c8c" stroke="#1a1a1a" stroke-width="0.55"/>
<line x1="93.15" y1="320.1" x2="93.15" y2="321.8" stroke="#444" stroke-width="0.7"/>
<line x1="101.55" y1="253.5" x2="101.55" y2="250.26" stroke="#222" stroke-width="0.7"/>
<line x1="100.15" y1="250.26" x2="102.95" y2="250.26" stroke="#222" stroke-width="0.7"/>
<rect x="98.7" y="253.5" width="5.7" height="66.6" fill="#6a6a6a" stroke="#1a1a1a" stroke-width="0.55"/>
<line x1="101.55" y1="320.1" x2="101.55" y2="321.8" stroke="#444" stroke-width="0.7"/>
<line x1="110.05" y1="302.99" x2="110.05" y2="299.75" stroke="#222" stroke-width="0.7"/>
<line x1="108.65" y1="299.75" x2="111.45" y2="299.75" stroke="#222" stroke-width="0.7"/>
<rect x="107.2" y="302.99" width="5.7" height="17.11" fill="#3c3c3c" stroke="#1a1a1a" stroke-width="0.55"/>
<line x1="110.05" y1="320.1" x2="110.05" y2="321.8" stroke="#444" stroke-width="0.7"/>
<line x1="118.85" y1="280.79" x2="118.85" y2="280.32" stroke="#222" stroke-width="0.7"/>
<line x1="117.45" y1="280.32" x2="120.25" y2="280.32" stroke="#222" stroke-width="0.7"/>
<rect x="116" y="280.79" width="5.7" height="39.31" fill="#1e1e1e" stroke="#1a1a1a" stroke-width="0.55"/>
<line x1="118.85" y1="320.1" x2="118.85" y2="321.8" stroke="#444" stroke-width="0.7"/>
<line x1="126.95" y1="284.95" x2="126.95" y2="281.25" stroke="#222" stroke-width="0.7"/>
<line x1="125.55" y1="281.25" x2="128.35" y2="281.25" stroke="#222" stroke-width="0.7"/>
<rect x="124.1" y="284.95" width="5.7" height="35.15" fill="#050505" stroke="#1a1a1a" stroke-width="0.55"/>
<line x1="126.95" y1="320.1" x2="126.95" y2="321.8" stroke="#444" stroke-width="0.7"/>
<line x1="29.7" y1="320.1" x2="130.6" y2="320.1" stroke="#222" stroke-width="0.9"/>
<text x="35.25" y="327.9" font-size="6.2" text-anchor="end" font-weight="normal" fill="#222" transform="rotate(-45 35.25 327.9)" textLength="24.89" lengthAdjust="spacingAndGlyphs" stroke="#222" stroke-width="0.2">untreated</text>
<text x="43.7" y="327.9" font-size="6.2" text-anchor="end" font-weight="normal" fill="#222" transform="rotate(-45 43.7 327.9)" textLength="10.55" lengthAdjust="spacingAndGlyphs" stroke="#222" stroke-width="0.2">Iso1</text>
<text x="52.15" y="327.9" font-size="6.2" text-anchor="end" font-weight="normal" fill="#222" transform="rotate(-45 52.15 327.9)" textLength="10.55" lengthAdjust="spacingAndGlyphs" stroke="#222" stroke-width="0.2">Iso2</text>
<text x="60.6" y="327.9" font-size="6.2" text-anchor="end" font-weight="normal" fill="#222" transform="rotate(-45 60.6 327.9)" textLength="17.91" lengthAdjust="spacingAndGlyphs" stroke="#222" stroke-width="0.2">RMT1-4</text>
<text x="69.05" y="327.9" font-size="6.2" text-anchor="end" font-weight="normal" fill="#222" transform="rotate(-45 69.05 327.9)" textLength="21.19" lengthAdjust="spacingAndGlyphs" stroke="#222" stroke-width="0.2">RMT1-10</text>
<text x="77.5" y="327.9" font-size="6.2" text-anchor="end" font-weight="normal" fill="#222" transform="rotate(-45 77.5 327.9)" textLength="16.14" lengthAdjust="spacingAndGlyphs" stroke="#222" stroke-width="0.2">222414</text>
<text x="85.95" y="327.9" font-size="6.2" text-anchor="end" font-weight="normal" fill="#222" transform="rotate(-45 85.95 327.9)" textLength="28.21" lengthAdjust="spacingAndGlyphs" stroke="#222" stroke-width="0.2">no antibody</text>
<text x="94.45" y="327.9" font-size="6.2" text-anchor="end" font-weight="normal" fill="#222" transform="rotate(-45 94.45 327.9)" textLength="10.55" lengthAdjust="spacingAndGlyphs" stroke="#222" stroke-width="0.2">Iso1</text>
<text x="102.85" y="327.9" font-size="6.2" text-anchor="end" font-weight="normal" fill="#222" transform="rotate(-45 102.85 327.9)" textLength="10.55" lengthAdjust="spacingAndGlyphs" stroke="#222" stroke-width="0.2">Iso2</text>
<text x="111.35" y="327.9" font-size="6.2" text-anchor="end" font-weight="normal" fill="#222" transform="rotate(-45 111.35 327.9)" textLength="17.91" lengthAdjust="spacingAndGlyphs" stroke="#222" stroke-width="0.2">RMT1-4</text>
<text x="120.15" y="327.9" font-size="6.2" text-anchor="end" font-weight="normal" fill="#222" transform="rotate(-45 120.15 327.9)" textLength="21.19" lengthAdjust="spacingAndGlyphs" stroke="#222" stroke-width="0.2">RMT1-10</text>
<text x="128.25" y="327.9" font-size="6.2" text-anchor="end" font-weight="normal" fill="#222" transform="rotate(-45 128.25 327.9)" textLength="16.14" lengthAdjust="spacingAndGlyphs" stroke="#222" stroke-width="0.2">222414</text>
<text x="18.8" y="283" font-size="6.2" text-anchor="middle" font-weight="bold" fill="#333" transform="rotate(-90 18.8 283)" textLength="35.7" lengthAdjust="spacingAndGlyphs" stroke="#333" stroke-width="0.05">IFNγ (pg/ml)</text>
<path d="M82.2 342.5 V345.6 H131 V342.5" fill="none" stroke="#333" stroke-width="0.7"/>
<text x="104.5" y="352.9" font-size="5.4" text-anchor="middle" font-weight="normal" fill="#222" textLength="42.5" lengthAdjust="spacingAndGlyphs" stroke="#222" stroke-width="0.25">+ anti-CD3/CD28</text>
<line x1="84" y1="243.5" x2="128.1" y2="243.5" stroke="#7a7a7a" stroke-width="0.8"/>
<text x="100.3" y="242.6" font-size="4" text-anchor="middle" font-weight="bold" fill="#222" stroke="#222" stroke-width="0.22">**</text>
<rect x="84" y="244.2" width="32.5" height="2.3" fill="#c2c2c2"/>
<line x1="152.2" y1="244" x2="152.2" y2="321.8" stroke="#222" stroke-width="0.9"/>
<line x1="150.5" y1="321.4" x2="152.2" y2="321.4" stroke="#222" stroke-width="0.7"/>
<text x="148.6" y="321.4" font-size="4.6" text-anchor="middle" font-weight="bold" fill="#222" transform="rotate(-90 148.6 321.4)" stroke="#222" stroke-width="0.05">0</text>
<line x1="150.5" y1="297.73" x2="152.2" y2="297.73" stroke="#222" stroke-width="0.7"/>
<text x="148.6" y="297.73" font-size="4.6" text-anchor="middle" font-weight="bold" fill="#222" transform="rotate(-90 148.6 297.73)" stroke="#222" stroke-width="0.05">20</text>
<line x1="150.5" y1="274.07" x2="152.2" y2="274.07" stroke="#222" stroke-width="0.7"/>
<text x="148.6" y="274.07" font-size="4.6" text-anchor="middle" font-weight="bold" fill="#222" transform="rotate(-90 148.6 274.07)" stroke="#222" stroke-width="0.05">40</text>
<line x1="150.5" y1="250.4" x2="152.2" y2="250.4" stroke="#222" stroke-width="0.7"/>
<text x="148.6" y="250.4" font-size="4.6" text-anchor="middle" font-weight="bold" fill="#222" transform="rotate(-90 148.6 250.4)" stroke="#222" stroke-width="0.05">60</text>
<line x1="156.5" y1="319.03" x2="156.5" y2="318.09" stroke="#222" stroke-width="0.7"/>
<line x1="155.1" y1="318.09" x2="157.9" y2="318.09" stroke="#222" stroke-width="0.7"/>
<rect x="153.7" y="319.03" width="5.6" height="2.37" fill="#ffffff" stroke="#1a1a1a" stroke-width="0.55"/>
<line x1="156.5" y1="321.4" x2="156.5" y2="323.1" stroke="#444" stroke-width="0.7"/>
<rect x="162" y="320.22" width="5.6" height="1.18" fill="#ffffff" stroke="#1a1a1a" stroke-width="0.55"/>
<line x1="164.8" y1="321.4" x2="164.8" y2="323.1" stroke="#444" stroke-width="0.7"/>
<rect x="170.3" y="320.93" width="5.6" height="0.47" fill="#ffffff" stroke="#1a1a1a" stroke-width="0.55"/>
<line x1="173.1" y1="321.4" x2="173.1" y2="323.1" stroke="#444" stroke-width="0.7"/>
<line x1="181.4" y1="321.4" x2="181.4" y2="323.1" stroke="#444" stroke-width="0.7"/>
<line x1="190.1" y1="320.22" x2="190.1" y2="319.62" stroke="#222" stroke-width="0.7"/>
<line x1="188.7" y1="319.62" x2="191.5" y2="319.62" stroke="#222" stroke-width="0.7"/>
<rect x="187.3" y="320.22" width="5.6" height="1.18" fill="#ffffff" stroke="#1a1a1a" stroke-width="0.55"/>
<line x1="190.1" y1="321.4" x2="190.1" y2="323.1" stroke="#444" stroke-width="0.7"/>
<line x1="198" y1="315.48" x2="198" y2="314.89" stroke="#222" stroke-width="0.7"/>
<line x1="196.6" y1="314.89" x2="199.4" y2="314.89" stroke="#222" stroke-width="0.7"/>
<rect x="195.2" y="315.48" width="5.6" height="5.92" fill="#111111" stroke="#1a1a1a" stroke-width="0.55"/>
<line x1="198" y1="321.4" x2="198" y2="323.1" stroke="#444" stroke-width="0.7"/>
<line x1="206.6" y1="279.98" x2="206.6" y2="277.85" stroke="#222" stroke-width="0.7"/>
<line x1="205.2" y1="277.85" x2="208" y2="277.85" stroke="#222" stroke-width="0.7"/>
<rect x="203.8" y="279.98" width="5.6" height="41.42" fill="#d0d0d0" stroke="#1a1a1a" stroke-width="0.55"/>
<line x1="206.6" y1="321.4" x2="206.6" y2="323.1" stroke="#444" stroke-width="0.7"/>
<line x1="215.2" y1="272.88" x2="215.2" y2="269.33" stroke="#222" stroke-width="0.7"/>
<line x1="213.8" y1="269.33" x2="216.6" y2="269.33" stroke="#222" stroke-width="0.7"/>
<rect x="212.4" y="272.88" width="5.6" height="48.52" fill="#8c8c8c" stroke="#1a1a1a" stroke-width="0.55"/>
<line x1="215.2" y1="321.4" x2="215.2" y2="323.1" stroke="#444" stroke-width="0.7"/>
<line x1="223.5" y1="277.02" x2="223.5" y2="276.31" stroke="#222" stroke-width="0.7"/>
<line x1="222.1" y1="276.31" x2="224.9" y2="276.31" stroke="#222" stroke-width="0.7"/>
<rect x="220.7" y="277.02" width="5.6" height="44.37" fill="#6c6c6c" stroke="#1a1a1a" stroke-width="0.55"/>
<line x1="223.5" y1="321.4" x2="223.5" y2="323.1" stroke="#444" stroke-width="0.7"/>
<line x1="232" y1="253.95" x2="232" y2="250.64" stroke="#222" stroke-width="0.7"/>
<line x1="230.6" y1="250.64" x2="233.4" y2="250.64" stroke="#222" stroke-width="0.7"/>
<rect x="229.2" y="253.95" width="5.6" height="67.45" fill="#444444" stroke="#1a1a1a" stroke-width="0.55"/>
<line x1="232" y1="321.4" x2="232" y2="323.1" stroke="#444" stroke-width="0.7"/>
<line x1="240.3" y1="279.98" x2="240.3" y2="277.85" stroke="#222" stroke-width="0.7"/>
<line x1="238.9" y1="277.85" x2="241.7" y2="277.85" stroke="#222" stroke-width="0.7"/>
<rect x="237.5" y="279.98" width="5.6" height="41.42" fill="#1e1e1e" stroke="#1a1a1a" stroke-width="0.55"/>
<line x1="240.3" y1="321.4" x2="240.3" y2="323.1" stroke="#444" stroke-width="0.7"/>
<line x1="248.9" y1="272.88" x2="248.9" y2="269.1" stroke="#222" stroke-width="0.7"/>
<line x1="247.5" y1="269.1" x2="250.3" y2="269.1" stroke="#222" stroke-width="0.7"/>
<rect x="246.1" y="272.88" width="5.6" height="48.52" fill="#050505" stroke="#1a1a1a" stroke-width="0.55"/>
<line x1="248.9" y1="321.4" x2="248.9" y2="323.1" stroke="#444" stroke-width="0.7"/>
<line x1="152.2" y1="321.4" x2="252.5" y2="321.4" stroke="#222" stroke-width="0.9"/>
<text x="158.1" y="328.9" font-size="6.2" text-anchor="end" font-weight="normal" fill="#222" transform="rotate(-45 158.1 328.9)" textLength="24.89" lengthAdjust="spacingAndGlyphs" stroke="#222" stroke-width="0.2">untreated</text>
<text x="166.4" y="328.9" font-size="6.2" text-anchor="end" font-weight="normal" fill="#222" transform="rotate(-45 166.4 328.9)" textLength="10.55" lengthAdjust="spacingAndGlyphs" stroke="#222" stroke-width="0.2">Iso1</text>
<text x="174.7" y="328.9" font-size="6.2" text-anchor="end" font-weight="normal" fill="#222" transform="rotate(-45 174.7 328.9)" textLength="10.55" lengthAdjust="spacingAndGlyphs" stroke="#222" stroke-width="0.2">Iso2</text>
<text x="183" y="328.9" font-size="6.2" text-anchor="end" font-weight="normal" fill="#222" transform="rotate(-45 183 328.9)" textLength="17.91" lengthAdjust="spacingAndGlyphs" stroke="#222" stroke-width="0.2">RMT1-4</text>
<text x="191.7" y="328.9" font-size="6.2" text-anchor="end" font-weight="normal" fill="#222" transform="rotate(-45 191.7 328.9)" textLength="21.19" lengthAdjust="spacingAndGlyphs" stroke="#222" stroke-width="0.2">RMT1-10</text>
<text x="199.6" y="328.9" font-size="6.2" text-anchor="end" font-weight="normal" fill="#222" transform="rotate(-45 199.6 328.9)" textLength="16.14" lengthAdjust="spacingAndGlyphs" stroke="#222" stroke-width="0.2">222414</text>
<text x="208.2" y="328.9" font-size="6.2" text-anchor="end" font-weight="normal" fill="#222" transform="rotate(-45 208.2 328.9)" textLength="28.21" lengthAdjust="spacingAndGlyphs" stroke="#222" stroke-width="0.2">no antibody</text>
<text x="216.8" y="328.9" font-size="6.2" text-anchor="end" font-weight="normal" fill="#222" transform="rotate(-45 216.8 328.9)" textLength="10.55" lengthAdjust="spacingAndGlyphs" stroke="#222" stroke-width="0.2">Iso1</text>
<text x="225.1" y="328.9" font-size="6.2" text-anchor="end" font-weight="normal" fill="#222" transform="rotate(-45 225.1 328.9)" textLength="10.55" lengthAdjust="spacingAndGlyphs" stroke="#222" stroke-width="0.2">Iso2</text>
<text x="233.6" y="328.9" font-size="6.2" text-anchor="end" font-weight="normal" fill="#222" transform="rotate(-45 233.6 328.9)" textLength="17.91" lengthAdjust="spacingAndGlyphs" stroke="#222" stroke-width="0.2">RMT1-4</text>
<text x="241.9" y="328.9" font-size="6.2" text-anchor="end" font-weight="normal" fill="#222" transform="rotate(-45 241.9 328.9)" textLength="21.19" lengthAdjust="spacingAndGlyphs" stroke="#222" stroke-width="0.2">RMT1-10</text>
<text x="250.5" y="328.9" font-size="6.2" text-anchor="end" font-weight="normal" fill="#222" transform="rotate(-45 250.5 328.9)" textLength="16.14" lengthAdjust="spacingAndGlyphs" stroke="#222" stroke-width="0.2">222414</text>
<text x="140.8" y="282.4" font-size="6.2" text-anchor="middle" font-weight="bold" fill="#333" transform="rotate(-90 140.8 282.4)" textLength="35.7" lengthAdjust="spacingAndGlyphs" stroke="#333" stroke-width="0.05">IL-4 (pg/ml)</text>
<path d="M205 343.1 V346.3 H253.7 V343.1" fill="none" stroke="#333" stroke-width="0.7"/>
<text x="228.2" y="353.1" font-size="5.4" text-anchor="middle" font-weight="normal" fill="#222" textLength="42.5" lengthAdjust="spacingAndGlyphs" stroke="#222" stroke-width="0.25">+ anti-CD3/CD28</text>
<line x1="205.6" y1="247.7" x2="231" y2="247.7" stroke="#333" stroke-width="0.8"/>
<text x="218.6" y="248.4" font-size="4.6" text-anchor="middle" font-weight="bold" fill="#222" stroke="#222" stroke-width="0.22">*</text>
<line x1="233" y1="246.1" x2="249.2" y2="246.1" stroke="#888" stroke-width="0.8"/>
<text x="240.1" y="244.2" font-size="4.2" text-anchor="middle" font-weight="bold" fill="#222" stroke="#222" stroke-width="0.22">N.S.</text>
<line x1="291.2" y1="247.4" x2="291.2" y2="321.7" stroke="#222" stroke-width="0.9"/>
<line x1="288.9" y1="321.3" x2="291.2" y2="321.3" stroke="#222" stroke-width="0.7"/>
<text x="288.5" y="322.88" font-size="4.4" text-anchor="end" font-weight="normal" fill="#222" stroke="#222" stroke-width="0.12">0</text>
<line x1="288.9" y1="296.77" x2="291.2" y2="296.77" stroke="#222" stroke-width="0.7"/>
<text x="288.5" y="298.35" font-size="4.4" text-anchor="end" font-weight="normal" fill="#222" stroke="#222" stroke-width="0.12">50</text>
<line x1="288.9" y1="272.23" x2="291.2" y2="272.23" stroke="#222" stroke-width="0.7"/>
<text x="288.5" y="273.82" font-size="4.4" text-anchor="end" font-weight="normal" fill="#222" stroke="#222" stroke-width="0.12">100</text>
<line x1="288.9" y1="247.7" x2="291.2" y2="247.7" stroke="#222" stroke-width="0.7"/>
<text x="288.5" y="249.28" font-size="4.4" text-anchor="end" font-weight="normal" fill="#222" stroke="#222" stroke-width="0.12">150</text>
<rect x="293.3" y="321.05" width="7.8" height="0.25" fill="#fff" stroke="#1a1a1a" stroke-width="0.55"/>
<line x1="297.2" y1="321.3" x2="297.2" y2="323" stroke="#444" stroke-width="0.7"/>
<rect x="304" y="320.71" width="7.8" height="0.59" fill="#444" stroke="#1a1a1a" stroke-width="0.55"/>
<line x1="307.9" y1="321.3" x2="307.9" y2="323" stroke="#444" stroke-width="0.7"/>
<line x1="318.9" y1="321.3" x2="318.9" y2="323" stroke="#444" stroke-width="0.7"/>
<line x1="329.9" y1="321.3" x2="329.9" y2="323" stroke="#444" stroke-width="0.7"/>
<line x1="352.7" y1="276.16" x2="352.7" y2="275.77" stroke="#222" stroke-width="0.7"/>
<line x1="351.3" y1="275.77" x2="354.1" y2="275.77" stroke="#222" stroke-width="0.7"/>
<rect x="348.8" y="276.16" width="7.8" height="45.14" fill="#8a8a8a" stroke="#1a1a1a" stroke-width="0.55"/>
<line x1="352.7" y1="321.3" x2="352.7" y2="323" stroke="#444" stroke-width="0.7"/>
<line x1="363.9" y1="252.61" x2="363.9" y2="251.13" stroke="#222" stroke-width="0.7"/>
<line x1="362.5" y1="251.13" x2="365.3" y2="251.13" stroke="#222" stroke-width="0.7"/>
<rect x="360" y="252.61" width="7.8" height="68.69" fill="#454545" stroke="#1a1a1a" stroke-width="0.55"/>
<line x1="363.9" y1="321.3" x2="363.9" y2="323" stroke="#444" stroke-width="0.7"/>
<line x1="375" y1="262.91" x2="375" y2="262.42" stroke="#222" stroke-width="0.7"/>
<line x1="373.6" y1="262.42" x2="376.4" y2="262.42" stroke="#222" stroke-width="0.7"/>
<rect x="371.1" y="262.91" width="7.8" height="58.39" fill="#222222" stroke="#1a1a1a" stroke-width="0.55"/>
<line x1="375" y1="321.3" x2="375" y2="323" stroke="#444" stroke-width="0.7"/>
<line x1="385.9" y1="264.38" x2="385.9" y2="263.99" stroke="#222" stroke-width="0.7"/>
<line x1="384.5" y1="263.99" x2="387.3" y2="263.99" stroke="#222" stroke-width="0.7"/>
<rect x="382" y="264.38" width="7.8" height="56.92" fill="#050505" stroke="#1a1a1a" stroke-width="0.55"/>
<line x1="385.9" y1="321.3" x2="385.9" y2="323" stroke="#444" stroke-width="0.7"/>
<line x1="291.2" y1="321.3" x2="390.6" y2="321.3" stroke="#222" stroke-width="0.9"/>
<text x="298" y="327.5" font-size="6.2" text-anchor="end" font-weight="normal" fill="#222" transform="rotate(-45 298 327.5)" textLength="24.89" lengthAdjust="spacingAndGlyphs" stroke="#222" stroke-width="0.06">untreated</text>
<text x="308.7" y="327.5" font-size="6.2" text-anchor="end" font-weight="normal" fill="#222" transform="rotate(-45 308.7 327.5)" textLength="14.69" lengthAdjust="spacingAndGlyphs" stroke="#222" stroke-width="0.06">RMT1-4</text>
<text x="319.7" y="327.5" font-size="6.2" text-anchor="end" font-weight="normal" fill="#222" transform="rotate(-45 319.7 327.5)" textLength="17.37" lengthAdjust="spacingAndGlyphs" stroke="#222" stroke-width="0.06">RMT1-10</text>
<text x="330.7" y="327.5" font-size="6.2" text-anchor="end" font-weight="normal" fill="#222" transform="rotate(-45 330.7 327.5)" textLength="13.23" lengthAdjust="spacingAndGlyphs" stroke="#222" stroke-width="0.06">222414</text>
<text x="353.5" y="327.5" font-size="6.2" text-anchor="end" font-weight="normal" fill="#222" transform="rotate(-45 353.5 327.5)" textLength="28.21" lengthAdjust="spacingAndGlyphs" stroke="#222" stroke-width="0.06">no antibody</text>
<text x="364.7" y="327.5" font-size="6.2" text-anchor="end" font-weight="normal" fill="#222" transform="rotate(-45 364.7 327.5)" textLength="14.69" lengthAdjust="spacingAndGlyphs" stroke="#222" stroke-width="0.06">RMT1-4</text>
<text x="375.8" y="327.5" font-size="6.2" text-anchor="end" font-weight="normal" fill="#222" transform="rotate(-45 375.8 327.5)" textLength="17.37" lengthAdjust="spacingAndGlyphs" stroke="#222" stroke-width="0.06">RMT1-10</text>
<text x="386.7" y="327.5" font-size="6.2" text-anchor="end" font-weight="normal" fill="#222" transform="rotate(-45 386.7 327.5)" textLength="13.23" lengthAdjust="spacingAndGlyphs" stroke="#222" stroke-width="0.06">222414</text>
<text x="277.4" y="285" font-size="6.2" text-anchor="middle" font-weight="bold" fill="#333" transform="rotate(-90 277.4 285)" textLength="34.3" lengthAdjust="spacingAndGlyphs" stroke="#333" stroke-width="0.05">IL-4 (pg/ml)</text>
<path d="M346 342.5 V346.3 H391.3 V342.5" fill="none" stroke="#333" stroke-width="0.7"/>
<text x="368.9" y="352.3" font-size="5.4" text-anchor="middle" font-weight="normal" fill="#222" textLength="42.7" lengthAdjust="spacingAndGlyphs" stroke="#222" stroke-width="0.12">+ anti-CD3/CD28</text>
<line x1="349.4" y1="240.6" x2="387.7" y2="240.6" stroke="#333" stroke-width="0.8"/>
<text x="368.8" y="240.2" font-size="5.2" text-anchor="middle" font-weight="bold" fill="#222" stroke="#222" stroke-width="0.22">*</text>
<line x1="349.2" y1="248.2" x2="363.7" y2="248.2" stroke="#333" stroke-width="0.8"/>
<text x="357.4" y="248.6" font-size="5.2" text-anchor="middle" font-weight="bold" fill="#222" stroke="#222" stroke-width="0.22">**</text>
<line x1="416.25" y1="246.7" x2="416.25" y2="321.7" stroke="#222" stroke-width="0.9"/>
<line x1="413.95" y1="321.3" x2="416.25" y2="321.3" stroke="#222" stroke-width="0.7"/>
<text x="413.55" y="322.88" font-size="4.4" text-anchor="end" font-weight="normal" fill="#222" stroke="#222" stroke-width="0.12">0</text>
<line x1="413.95" y1="310.69" x2="416.25" y2="310.69" stroke="#222" stroke-width="0.7"/>
<text x="413.55" y="312.27" font-size="4.4" text-anchor="end" font-weight="normal" fill="#222" stroke="#222" stroke-width="0.12">50</text>
<line x1="413.95" y1="300.07" x2="416.25" y2="300.07" stroke="#222" stroke-width="0.7"/>
<text x="413.55" y="301.66" font-size="4.4" text-anchor="end" font-weight="normal" fill="#222" stroke="#222" stroke-width="0.12">100</text>
<line x1="413.95" y1="289.46" x2="416.25" y2="289.46" stroke="#222" stroke-width="0.7"/>
<text x="413.55" y="291.04" font-size="4.4" text-anchor="end" font-weight="normal" fill="#222" stroke="#222" stroke-width="0.12">150</text>
<line x1="413.95" y1="278.84" x2="416.25" y2="278.84" stroke="#222" stroke-width="0.7"/>
<text x="413.55" y="280.43" font-size="4.4" text-anchor="end" font-weight="normal" fill="#222" stroke="#222" stroke-width="0.12">200</text>
<line x1="413.95" y1="268.23" x2="416.25" y2="268.23" stroke="#222" stroke-width="0.7"/>
<text x="413.55" y="269.81" font-size="4.4" text-anchor="end" font-weight="normal" fill="#222" stroke="#222" stroke-width="0.12">250</text>
<line x1="413.95" y1="257.61" x2="416.25" y2="257.61" stroke="#222" stroke-width="0.7"/>
<text x="413.55" y="259.2" font-size="4.4" text-anchor="end" font-weight="normal" fill="#222" stroke="#222" stroke-width="0.12">300</text>
<line x1="413.95" y1="247" x2="416.25" y2="247" stroke="#222" stroke-width="0.7"/>
<text x="413.55" y="248.58" font-size="4.4" text-anchor="end" font-weight="normal" fill="#222" stroke="#222" stroke-width="0.12">350</text>
<line x1="421.75" y1="301.77" x2="421.75" y2="301.45" stroke="#222" stroke-width="0.7"/>
<line x1="420.35" y1="301.45" x2="423.15" y2="301.45" stroke="#222" stroke-width="0.7"/>
<rect x="418" y="301.77" width="7.5" height="19.53" fill="#a8a8a8" stroke="#1a1a1a" stroke-width="0.55"/>
<line x1="421.75" y1="321.3" x2="421.75" y2="323" stroke="#444" stroke-width="0.7"/>
<line x1="433.05" y1="301.77" x2="433.05" y2="301.45" stroke="#222" stroke-width="0.7"/>
<line x1="431.65" y1="301.45" x2="434.45" y2="301.45" stroke="#222" stroke-width="0.7"/>
<rect x="429.3" y="301.77" width="7.5" height="19.53" fill="#787878" stroke="#1a1a1a" stroke-width="0.55"/>
<line x1="433.05" y1="321.3" x2="433.05" y2="323" stroke="#444" stroke-width="0.7"/>
<line x1="444.25" y1="300.5" x2="444.25" y2="299.43" stroke="#222" stroke-width="0.7"/>
<line x1="442.85" y1="299.43" x2="445.65" y2="299.43" stroke="#222" stroke-width="0.7"/>
<rect x="440.5" y="300.5" width="7.5" height="20.8" fill="#333333" stroke="#1a1a1a" stroke-width="0.55"/>
<line x1="444.25" y1="321.3" x2="444.25" y2="323" stroke="#444" stroke-width="0.7"/>
<line x1="455.05" y1="305.8" x2="455.05" y2="305.7" stroke="#222" stroke-width="0.7"/>
<line x1="453.65" y1="305.7" x2="456.45" y2="305.7" stroke="#222" stroke-width="0.7"/>
<rect x="451.3" y="305.8" width="7.5" height="15.5" fill="#060606" stroke="#1a1a1a" stroke-width="0.55"/>
<line x1="455.05" y1="321.3" x2="455.05" y2="323" stroke="#444" stroke-width="0.7"/>
<line x1="476.75" y1="265.47" x2="476.75" y2="264.83" stroke="#222" stroke-width="0.7"/>
<line x1="475.35" y1="264.83" x2="478.15" y2="264.83" stroke="#222" stroke-width="0.7"/>
<rect x="473" y="265.47" width="7.5" height="55.83" fill="#8c8c8c" stroke="#1a1a1a" stroke-width="0.55"/>
<line x1="476.75" y1="321.3" x2="476.75" y2="323" stroke="#444" stroke-width="0.7"/>
<line x1="488.25" y1="258.68" x2="488.25" y2="258.04" stroke="#222" stroke-width="0.7"/>
<line x1="486.85" y1="258.04" x2="489.65" y2="258.04" stroke="#222" stroke-width="0.7"/>
<rect x="484.5" y="258.68" width="7.5" height="62.62" fill="#555555" stroke="#1a1a1a" stroke-width="0.55"/>
<line x1="488.25" y1="321.3" x2="488.25" y2="323" stroke="#444" stroke-width="0.7"/>
<line x1="499.25" y1="262.92" x2="499.25" y2="261.65" stroke="#222" stroke-width="0.7"/>
<line x1="497.85" y1="261.65" x2="500.65" y2="261.65" stroke="#222" stroke-width="0.7"/>
<rect x="495.5" y="262.92" width="7.5" height="58.38" fill="#2a2a2a" stroke="#1a1a1a" stroke-width="0.55"/>
<line x1="499.25" y1="321.3" x2="499.25" y2="323" stroke="#444" stroke-width="0.7"/>
<line x1="510.55" y1="265.04" x2="510.55" y2="264.83" stroke="#222" stroke-width="0.7"/>
<line x1="509.15" y1="264.83" x2="511.95" y2="264.83" stroke="#222" stroke-width="0.7"/>
<rect x="506.8" y="265.04" width="7.5" height="56.26" fill="#060606" stroke="#1a1a1a" stroke-width="0.55"/>
<line x1="510.55" y1="321.3" x2="510.55" y2="323" stroke="#444" stroke-width="0.7"/>
<line x1="416.25" y1="321.3" x2="515.1" y2="321.3" stroke="#222" stroke-width="0.9"/>
<text x="422.95" y="326.9" font-size="6.2" text-anchor="end" font-weight="normal" fill="#222" transform="rotate(-45 422.95 326.9)" textLength="24.89" lengthAdjust="spacingAndGlyphs" stroke="#222" stroke-width="0.06">untreated</text>
<text x="434.25" y="326.9" font-size="6.2" text-anchor="end" font-weight="normal" fill="#222" transform="rotate(-45 434.25 326.9)" textLength="14.69" lengthAdjust="spacingAndGlyphs" stroke="#222" stroke-width="0.06">RMT1-4</text>
<text x="445.45" y="326.9" font-size="6.2" text-anchor="end" font-weight="normal" fill="#222" transform="rotate(-45 445.45 326.9)" textLength="17.37" lengthAdjust="spacingAndGlyphs" stroke="#222" stroke-width="0.06">RMT1-10</text>
<text x="456.25" y="326.9" font-size="6.2" text-anchor="end" font-weight="normal" fill="#222" transform="rotate(-45 456.25 326.9)" textLength="13.23" lengthAdjust="spacingAndGlyphs" stroke="#222" stroke-width="0.06">222414</text>
<text x="489.45" y="326.9" font-size="6.2" text-anchor="end" font-weight="normal" fill="#222" transform="rotate(-45 489.45 326.9)" textLength="14.69" lengthAdjust="spacingAndGlyphs" stroke="#222" stroke-width="0.06">RMT1-4</text>
<text x="500.45" y="326.9" font-size="6.2" text-anchor="end" font-weight="normal" fill="#222" transform="rotate(-45 500.45 326.9)" textLength="17.37" lengthAdjust="spacingAndGlyphs" stroke="#222" stroke-width="0.06">RMT1-10</text>
<text x="511.75" y="326.9" font-size="6.2" text-anchor="end" font-weight="normal" fill="#222" transform="rotate(-45 511.75 326.9)" textLength="13.23" lengthAdjust="spacingAndGlyphs" stroke="#222" stroke-width="0.06">222414</text>
<text x="402.5" y="284" font-size="6.2" text-anchor="middle" font-weight="bold" fill="#333" transform="rotate(-90 402.5 284)" textLength="36.3" lengthAdjust="spacingAndGlyphs" stroke="#333" stroke-width="0.05">IFNγ (pg/ml)</text>
<path d="M471 342.7 V346.2 H516.8 V342.7" fill="none" stroke="#333" stroke-width="0.7"/>
<text x="494" y="352.5" font-size="5.4" text-anchor="middle" font-weight="normal" fill="#222" textLength="42.5" lengthAdjust="spacingAndGlyphs" stroke="#222" stroke-width="0.12">+ anti-CD3/CD28</text>
<line x1="473.8" y1="252" x2="512" y2="252" stroke="#333" stroke-width="0.8"/>
<text x="490" y="250" font-size="4.2" text-anchor="middle" font-weight="bold" fill="#222" stroke="#222" stroke-width="0.22">N.S.</text>
<rect x="76" y="402.3" width="192.5" height="18.2" fill="#ababab" stroke="#1a1a1a" stroke-width="0.9"/>
<rect x="76" y="426.4" width="192.5" height="16.8" fill="#b4b4b4" stroke="#1a1a1a" stroke-width="0.9"/>
<g filter="url(#bl)">
<rect x="79.4" y="413.1" width="13.2" height="4.2" rx="2.1" fill="#161616"/>
<rect x="94.9" y="411.3" width="13.8" height="5" rx="2.2" fill="#121212"/>
<rect x="111.1" y="412.3" width="12.8" height="4.6" rx="2.2" fill="#161616"/>
<rect x="126.3" y="410.9" width="13.4" height="4.6" rx="2.2" fill="#121212"/>
<rect x="142.1" y="410.6" width="13.8" height="5.2" rx="2.2" fill="#101010"/>
<rect x="158" y="410.5" width="12.4" height="3.8" rx="1.9" fill="#1a1a1a"/>
<rect x="173.1" y="410.9" width="12.2" height="3" rx="1.5" fill="#2a2a2a"/>
<rect x="189.2" y="411" width="12.2" height="2.8" rx="1.4" fill="#303030"/>
<rect x="205" y="410.7" width="11.8" height="3" rx="1.5" fill="#2c2c2c"/>
<rect x="220" y="408.9" width="13.2" height="6.4" rx="2.2" fill="#060606"/>
<rect x="235.5" y="409.9" width="12.4" height="4" rx="2" fill="#161616"/>
<rect x="250.5" y="409.6" width="12.6" height="4.2" rx="2.1" fill="#121212"/>
<rect x="79.2" y="433.3" width="13.6" height="3.6" rx="1.6" fill="#141414"/>
<rect x="95" y="433.18" width="13.6" height="3.6" rx="1.6" fill="#141414"/>
<rect x="110.7" y="433.06" width="13.6" height="3.6" rx="1.6" fill="#141414"/>
<rect x="126.2" y="432.94" width="13.6" height="3.6" rx="1.6" fill="#141414"/>
<rect x="142.2" y="432.82" width="13.6" height="3.6" rx="1.6" fill="#141414"/>
<rect x="157.4" y="432.7" width="13.6" height="3.6" rx="1.6" fill="#141414"/>
<rect x="172.4" y="432.58" width="13.6" height="3.6" rx="1.6" fill="#141414"/>
<rect x="188.5" y="432.46" width="13.6" height="3.6" rx="1.6" fill="#141414"/>
<rect x="204.1" y="432.34" width="13.6" height="3.6" rx="1.6" fill="#141414"/>
<rect x="219.8" y="432.22" width="13.6" height="3.6" rx="1.6" fill="#141414"/>
<rect x="234.9" y="432.1" width="13.6" height="3.6" rx="1.6" fill="#141414"/>
<rect x="250" y="431.98" width="13.6" height="3.6" rx="1.6" fill="#141414"/>
</g>
<text x="70.2" y="413.5" font-size="7.4" text-anchor="end" font-weight="bold" fill="#111">p27</text>
<text x="74.3" y="435.3" font-size="7" text-anchor="end" font-weight="bold" fill="#111">β actin</text>
<text x="84.4" y="400.5" font-size="5.6" text-anchor="start" font-weight="normal" fill="#111" transform="rotate(-45 84.4 400.5)" stroke="#111" stroke-width="0.18">untreated</text>
<text x="101.6" y="400.5" font-size="5.6" text-anchor="start" font-weight="normal" fill="#111" transform="rotate(-45 101.6 400.5)" stroke="#111" stroke-width="0.18">Iso 1</text>
<text x="117.3" y="400.5" font-size="5.6" text-anchor="start" font-weight="normal" fill="#111" transform="rotate(-45 117.3 400.5)" stroke="#111" stroke-width="0.18">Iso 2</text>
<text x="132.8" y="400.5" font-size="5.6" text-anchor="start" font-weight="normal" fill="#111" transform="rotate(-45 132.8 400.5)" stroke="#111" stroke-width="0.18">RMT1-4</text>
<text x="148.8" y="400.5" font-size="5.6" text-anchor="start" font-weight="normal" fill="#111" transform="rotate(-45 148.8 400.5)" stroke="#111" stroke-width="0.18">RMT1-10</text>
<text x="164" y="400.5" font-size="5.6" text-anchor="start" font-weight="normal" fill="#111" transform="rotate(-45 164 400.5)" stroke="#111" stroke-width="0.18">222414</text>
<text x="179" y="400.5" font-size="5.6" text-anchor="start" font-weight="normal" fill="#111" transform="rotate(-45 179 400.5)" stroke="#111" stroke-width="0.18">no antibody</text>
<text x="195.1" y="400.5" font-size="5.6" text-anchor="start" font-weight="normal" fill="#111" transform="rotate(-45 195.1 400.5)" stroke="#111" stroke-width="0.18">Iso 1</text>
<text x="210.7" y="400.5" font-size="5.6" text-anchor="start" font-weight="normal" fill="#111" transform="rotate(-45 210.7 400.5)" stroke="#111" stroke-width="0.18">Iso 2</text>
<text x="226.4" y="400.5" font-size="5.6" text-anchor="start" font-weight="normal" fill="#111" transform="rotate(-45 226.4 400.5)" stroke="#111" stroke-width="0.18">RMT1-4</text>
<text x="241.5" y="400.5" font-size="5.6" text-anchor="start" font-weight="normal" fill="#111" transform="rotate(-45 241.5 400.5)" stroke="#111" stroke-width="0.18">RMT1-10</text>
<text x="256.6" y="400.5" font-size="5.6" text-anchor="start" font-weight="normal" fill="#111" transform="rotate(-45 256.6 400.5)" stroke="#111" stroke-width="0.18">222414</text>
<path d="M181.6 376.4 V371.6 H263.1 V376.4" fill="none" stroke="#333" stroke-width="0.7"/>
<text x="221.8" y="369.8" font-size="5.4" text-anchor="middle" font-weight="bold" fill="#111" stroke="#111" stroke-width="0.22">+ αGalCer</text>
<text x="1" y="9.6" font-size="12" text-anchor="start" font-weight="normal" fill="#000" stroke="#000" stroke-width="0.15">A</text>
<text x="1" y="125.7" font-size="12.4" text-anchor="start" font-weight="normal" fill="#000" stroke="#000" stroke-width="0.15">B</text>
<text x="0.4" y="244.5" font-size="12.8" text-anchor="start" font-weight="normal" fill="#000" stroke="#000" stroke-width="0.15">C</text>
<text x="262.9" y="245" font-size="12.8" text-anchor="start" font-weight="normal" fill="#000" stroke="#000" stroke-width="0.15">D</text>
<text x="0.8" y="374.2" font-size="12.8" text-anchor="start" font-weight="normal" fill="#000" stroke="#000" stroke-width="0.15">E</text>
<text x="28.7" y="4.3" font-size="4.6" text-anchor="start" font-weight="normal" fill="#222" textLength="69.4" lengthAdjust="spacingAndGlyphs" stroke="#222" stroke-width="0.2">Iso1 : IgG2b,κ (RMT1-4, 222414)</text>
<text x="28.7" y="9.5" font-size="4.6" text-anchor="start" font-weight="normal" fill="#222" textLength="53.1" lengthAdjust="spacingAndGlyphs" stroke="#222" stroke-width="0.2">Iso2:  IgG2a,κ (RMT1-10)</text>
</svg>
</body></html>
